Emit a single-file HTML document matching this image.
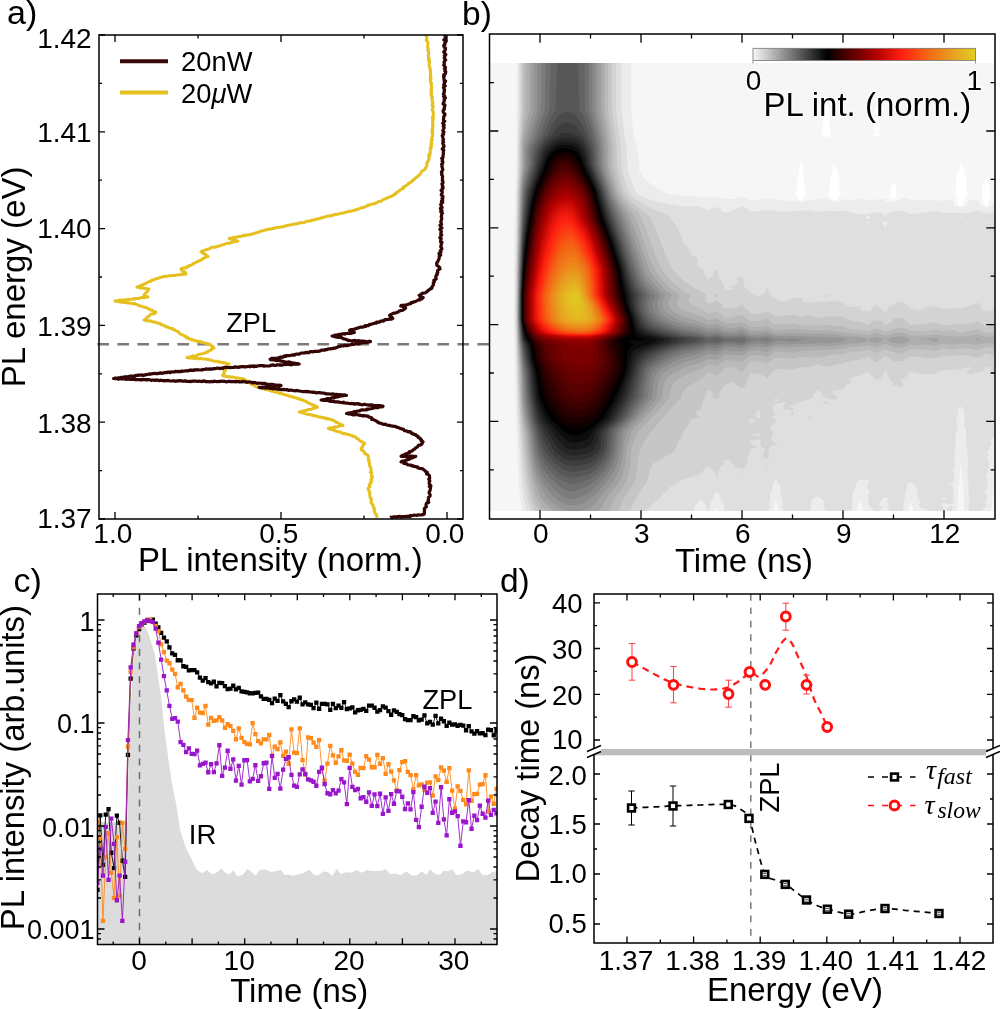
<!DOCTYPE html><html><head><meta charset="utf-8"><style>html,body{margin:0;padding:0;background:#fff;overflow:hidden;}svg{display:block;will-change:transform;}</style></head><body>
<svg width="1000" height="1009" viewBox="0 0 1000 1009">
<rect width="1000" height="1009" fill="#fff"/>
<line x1="97.4" y1="344.2" x2="511" y2="344.2" stroke="#7a7a7a" stroke-width="2.6" stroke-dasharray="11.6 8.4"/>
<polyline points="426.6,35 426.3,36.2 426.6,37.5 427.1,38.4 426.2,40.1 426.7,40.9 428,42.2 427.9,43.5 427.7,44.5 427.8,46.1 427.7,47.3 428,48 428.3,49.6 427.7,50.4 428.7,51.9 428.5,53.4 428.6,54.6 428.2,55.8 428.5,56.8 428.5,58.3 429.3,59 428.3,60.3 429.7,61.6 429.3,62.7 429.2,64 429.1,65.3 429.6,66.8 429.9,68 430.3,69.2 430.1,69.9 430.5,71.7 430.7,72.6 430.5,73.6 430.3,75 430.9,76.3 430.1,77.1 431.1,79 430,80 430.6,80.8 430.5,82.5 431.5,83.2 431.2,84.4 431.4,85.8 431.8,87.5 431.3,88.7 431,89.3 431.6,90.5 431,91.9 431.8,93 430.9,94.7 431.5,95.9 432.5,96.8 431.9,98.1 432.2,99.3 432.1,100.5 432.3,101.8 433,102.9 432.3,104.3 432,105.2 433.3,106.6 432.7,107.4 432.6,109 432.1,110.2 433.1,111.1 433.2,112.6 433.4,113.7 433.2,115 433.5,116.4 432.3,117.2 433.3,119 432.6,119.9 433,121 432.6,122.2 432.6,123.6 432.4,124.7 433.1,125.7 432.7,127.4 432.2,128.3 433,129.5 431.9,130.8 432.7,131.9 432,133.2 432.8,134.5 432.7,135.6 432.1,137 431.7,138.3 432.4,139.4 431.2,140.4 431.5,141.6 431.8,143.3 430.7,144.1 431.5,145.5 431.4,146.6 430.2,147.7 431.1,148.9 430.2,150.2 430.3,151.5 429.9,152.7 430.4,153.7 428.6,155.4 429.7,156.6 428.7,157.8 429.1,158.6 428.5,160.2 428.1,161.2 427.2,162.3 426.8,163.3 427.1,164.7 426.6,166 426.3,166.7 425.6,168.1 424.8,169.3 424,170 421.8,171.2 421.2,171.9 421.2,173 420,174.3 419.3,175 418.5,175.7 416.9,176.9 416.3,177.6 415.1,178.1 414.4,179.3 412.8,180.1 413,180.9 411.9,181.2 410.6,182.6 408.7,183 408.4,184 407.1,184.8 406.3,185.4 405.9,185.9 403.8,186.7 403,187.4 403.4,188.6 401,189.1 400.4,189.7 399.5,190.7 398.9,191.2 397.3,192 396.2,192.8 396.2,193.5 394.2,194.1 393.9,195 392.6,195.6 392.1,195.9 391,196.6 389.2,196.9 388.2,197.6 386.9,198.1 385.9,198.3 384.9,199.1 383,199.5 382.4,200.2 382.1,200.4 380.9,201.2 378.7,201.5 377.4,202.2 377.1,202.7 375.7,203 375,203.5 373.8,203.8 371.6,204.2 370.3,204.4 370.4,204.7 368.1,205.1 368.2,205.6 365.7,206.4 364.7,206.8 364.5,207.2 363.7,207.4 362.3,207.4 361.1,208.1 359.9,208.3 358.8,209.2 356.6,209.2 356.2,209.9 354.5,209.9 353.8,210.5 352.2,210.8 351.8,211 350,211.2 348.7,211.5 347.1,211.9 347.3,212.1 345.7,212.2 344.4,212.8 343.2,212.9 341.6,213.3 341.1,213.3 338.6,213.9 338.7,214 336.7,214.4 335.1,214.4 333.9,214.9 332.9,214.9 332.3,215.7 330.4,215.8 329.4,216.1 328.5,216 326.7,216.2 325.9,216.7 324.7,217 322.9,217.2 322,217.8 320.4,218.3 319.7,218.3 318.5,218.8 317.8,218.9 316.1,219.3 315.4,219.4 314,220.1 312.3,220 310.7,220.6 310.2,221 309.3,220.9 307,221.2 305.7,221.8 305,222 304.3,222.5 302.1,222.7 301,222.7 300.4,222.7 298.1,223.5 297.2,223.4 296.4,223.9 294.2,223.9 293.6,224.2 292,224.6 292,224.7 290.1,224.8 288.4,225.4 286.9,225.7 286.9,225.5 285,226 284.5,226.2 282.9,226.7 280.9,226.9 280.2,227.2 278.4,227.4 278.2,227.6 276.3,227.5 275,227.9 274.1,228.4 272.6,228.3 271.5,228.8 269.5,229.2 269,229 268.2,229.3 266,229.9 265,230 264,230.4 262.8,230.8 261.1,231 259.5,231.7 259.4,232 258.2,232.3 256.2,232.7 256,232.9 254.2,233.4 253,234 252.2,234.1 250.3,234.4 249.4,234.9 247.8,235.1 246.2,235 245,235.1 244.8,235.8 242.6,235.6 241.8,236.2 241.2,236.5 239.6,236.3 238.1,236.6 237,237 235.7,237.3 233.9,237.3 233.5,237.4 232.2,238.2 231.1,238.1 229,238.4 230.4,238.8 231.8,239.4 233.2,239.4 234.7,239.9 235.6,240.4 235.9,240.8 238,241 237.1,241.3 235.7,241.5 234,241.8 232.5,242.1 232.3,242.3 231,242.9 230.4,242.7 229,243.3 226.6,243.4 225.8,243.5 225,244 223.9,244.6 222.4,244.9 221.8,244.8 220.9,245.5 219.8,245.9 218.3,246 217.3,246.7 216.2,246.8 214.8,247.2 212.6,247.2 211.4,247.7 210.3,248.2 210,248.6 208.4,249 207,249.3 206.6,249.6 205,250 203.2,250.8 202.7,251 201,251.6 201.8,252.3 203.2,252.9 203.2,253.6 205.5,254.2 205.9,255 206.5,255.7 208,256.6 206.7,256.9 205,257.5 204.1,258.2 202.8,258.5 202.3,259.3 201.6,259.6 200,260.4 199,261 197.2,261.8 196.4,261.8 195.7,262.4 194.9,263.1 193,263.4 192.9,264.1 191.9,264.7 191.1,265.2 188.9,265.7 188.7,266.5 186.9,266.7 186.4,267.8 185,268 183.8,268 181.6,268.4 181,269 181.5,269.7 182.3,271.1 184.6,271.8 185.8,273 186,274 185.3,274.4 184.2,274 182,274.5 181.8,274.3 179.5,274.9 178,274.8 177.1,275.1 176.8,274.9 175.3,275.4 174.2,275.4 173.1,275.5 171,275.5 170.4,275.8 168.3,275.8 167.8,276.2 166.6,276.2 165,276.4 163.7,276.5 162.8,276.7 161.2,277.5 160.3,277.4 158.3,278.2 157.7,278.6 156.8,278.6 155,279 154.5,279.7 152.5,280 151,280.6 151.3,281 149.6,281.5 147.7,282.4 146.8,282.6 145.6,283.5 145,284 144,284.1 142.3,285.2 141.1,285.3 140.3,285.9 139.5,286.3 138.2,286.4 137,287 137.7,286.9 139.9,287.2 139.8,287.9 141.3,288.1 142.3,288 143.8,288.4 145.6,288.5 147,288.8 147.6,288.9 149,289 148.1,289.8 147.9,291.1 147,291.8 145.7,293 145.2,293.7 144,295 145.1,295.7 146,296.4 148,297 147.2,297.1 145.8,297.4 143.9,297.3 143.9,297.5 141.8,297.5 140.2,297.7 140.1,298.2 138.8,298.5 137.2,298.6 135.8,298.4 135.3,298.9 134.1,298.8 132.5,298.9 131.7,299.3 129.3,299.5 127.9,299.1 127.6,299.4 126,299.8 124,300 123.2,299.9 122.1,300.3 121.5,300.1 119.3,300.3 118.5,300.3 116.9,300.9 116.5,301.2 115,301 117,301.4 117.3,301.2 118.4,301.5 120,301.8 121,302.2 122.2,302.1 124.4,302.5 124.7,302.3 126.7,302.4 126.9,302.9 128.8,302.8 129.3,303.1 131.7,303.4 133.3,303.8 134.5,303.5 135,304 135.7,304.1 137.3,304.7 137.9,305.2 139.2,305.5 140.6,306.2 142.1,306.2 142.7,306.8 144.8,307.3 146.5,307.8 147,308 147.7,308.3 149.7,309.3 150.4,309.9 151.6,310.1 152.1,310.4 154,311.6 155.5,311.8 156,312.4 155.1,313.2 154.1,313.5 152.3,314 150.7,314.3 150,315 149.3,316.1 148.1,316.6 146.8,317.5 146.5,318.3 145.7,318.9 144,320 144.9,320.2 146.3,320.7 148.2,320.9 149.1,320.6 150.2,321.1 151.3,321.2 152.9,321.8 153.1,321.9 155,322 156,322.5 158,323.2 158.8,323.2 160.4,323.7 160.7,324.6 161.8,324.7 164,325.6 164.1,325.7 165.2,326 166.4,327 167.3,327 168.6,327.4 170.3,328.3 172,328.7 173.2,328.7 173.5,329.8 175,330 175.5,330.6 177.3,331.3 178.5,331.9 179.1,333.1 180.1,333.8 181.3,334.6 183,335 184.3,335.8 184.4,336 186.4,336.8 186.5,337.9 188.6,338 189,339 190.9,339.3 191.2,339.3 192.4,340.2 193.4,339.9 194.3,340.2 195.8,341 196.6,340.9 199.1,341.7 200.4,341.5 200.5,342.2 201.9,342.4 202.8,342.2 204,343 205.9,343.2 206.6,343.4 207.7,343.7 209,344 210.5,344.6 211.2,345.9 212.6,346.2 213.7,347.4 214,348 212.3,348.5 211.3,349 211.4,349.8 210.1,350.3 207.6,351.4 207.7,352.1 206.4,352.4 205,353 204.2,353 202.7,353.6 200.8,354 199.9,354.2 198.8,354.4 197.6,354.9 197.4,355.4 196,355.7 193.9,356.1 192.6,355.8 191.8,356.5 190.3,356.8 189.1,357.3 188.1,357.3 187,357.6 188.3,357.9 190.2,357.8 190.5,358 191.1,357.9 193.6,358.2 193.5,358.4 195.2,358.6 196.4,358.2 197.9,358.7 198.9,358.8 200.5,358.5 201.1,358.7 202.4,358.7 204,359.1 205,359 206.3,359 207,359.4 208.8,359.5 209.1,359.9 210.7,359.9 212.3,360.8 213.5,360.9 215.1,361.2 216.5,361.2 217.3,361.3 218.8,361.7 219.4,362.2 220.3,362.1 222.3,362.6 222.3,362.4 224,362.7 225.9,363 226.2,363.4 227.8,363.7 229,364 228.3,364.9 227.2,365.4 226.4,366.5 226.7,367.8 224.8,368.7 225.5,370.2 223.9,370.7 224.1,372.1 224.3,373.5 223,374.4 222.8,375.6 224.1,376 224.7,375.9 225.8,376.3 226.9,376.7 228.9,376.6 229.4,376.6 231.2,377.2 232.6,377.1 234.5,377.5 235,377.4 235.8,378.1 236.7,378 238.7,378.1 240.2,378.7 241.5,378.8 241.7,378.5 243.3,378.9 244.6,379.2 245.2,380.2 246.3,380.9 248.6,381.1 249.6,382.1 249.6,382.6 250.4,383.6 252,384.5 253.9,384.8 254.3,385.7 255.5,386.5 256.2,386.7 257.5,387.3 258.7,387.2 259.7,387.8 261.4,388 262.8,388.3 263.9,388.8 264.3,389.3 265.8,389.4 267.3,389.8 268.3,389.8 270,390.6 270.7,390.8 271.5,391.3 273.3,391.2 274.7,392 275.1,392.3 276.5,392.1 278,392.6 279.2,393 279.4,393.3 281.8,393.6 282.4,394.2 283.4,394.3 284.7,394.6 286,395.2 286.7,395.1 288.8,395.7 289.2,396.3 291.4,396.4 292.8,397 293.6,397 293.6,397.6 296,397.7 296.8,398.2 297.6,398.7 299.4,398.8 299.8,399.3 301.4,399.8 302.9,400 303.5,400.5 304.6,401.1 306.4,401.4 306.6,402.2 308,402.8 309.1,403.1 310.8,404.2 312.4,404.5 312.8,404.8 313.7,405.5 315.9,405.9 317,406.7 317.4,407.3 316.1,407.5 315.7,407.7 313.9,408.2 312.1,408.4 312.1,409.1 310.5,409.4 308.3,409.6 308.1,409.6 306.4,410.4 305,410.6 303.5,410.9 302.5,411.1 301.4,411.6 300.8,411.7 299.2,412 300.7,412.2 302,412.4 302.8,412.9 303.7,412.9 304.5,413.5 305.8,413.9 307.4,414.3 309.1,414.4 309.5,414.3 311,415 312.8,415 312.7,415.7 314.8,415.7 316,415.8 316.8,416.4 318.1,416.4 318.5,416.9 320.9,416.9 320.7,417.2 323.1,417.6 323.7,418.3 325.1,418.1 326.5,418.3 327,419 328,418.8 329.7,419.3 331.6,419.5 332,420 333.6,420.5 334.7,421.1 335.5,421.5 335.9,422.2 337.9,422.7 338.1,423.2 339,423.7 340.8,424.4 342,424.8 342.9,425.5 340.9,425.4 340.2,425.8 339.4,426.1 338.5,426.5 337.1,426.9 335.6,426.9 334.1,426.9 333.6,427.4 331.3,427.9 330.9,428 329.4,427.9 328.3,428.4 330.3,428.6 330.4,429.4 331.2,429.5 332.9,429.7 334.8,430.2 334.5,430.6 335.6,431.1 338.2,431.6 338,431.8 339.6,432 340.7,432.3 341.6,432.8 342.7,433.4 343.8,433.8 345.2,433.6 347.2,434.2 348.4,434.6 349.4,434.7 350.6,435.3 352.2,435.4 352,436.1 353.8,436.4 355.6,437.1 356.3,437.9 356.9,438.6 358.3,439 358.9,440.2 360,440.8 361,441.4 362.8,442.4 364.3,443 364.7,443.7 363.5,444.7 362.6,445.7 362.7,447.1 361.4,447.9 361.1,449.2 361.4,449.9 362.9,450.8 364.5,451.9 364.5,452.8 364.9,453.8 367,454.5 367.8,455.4 368.4,456.4 368.2,457.4 368.3,458.9 369.2,460.2 368.6,461.5 369.4,462.4 369.6,463.7 369.3,464.9 370.2,466.3 370.2,467.4 371.1,468.4 371.2,470 371.1,471.3 370.4,472.4 371.8,473.2 371.6,475 371.3,476.1 372.5,477 372,478.3 371,479.3 371.7,480.7 370.5,481.9 371.1,483 369.2,484.6 369.3,485.5 370,486.6 368.1,488.2 368.4,489.2 368.3,490.2 369.7,491.5 369.9,492.7 369.3,493.9 370,495.3 370,496.5 370.2,497.9 371.5,499.1 371.6,499.9 371,501.2 371.1,502.9 372,503.8 373.1,505.2 373,505.9 373.3,507 374.5,508.2 374,509.8 374.3,511 374.9,512 375,513.3 376,514.1 376.8,515.4 376.6,516.2 377.5,517.6" fill="none" stroke="#e5c01e" stroke-width="3.0" stroke-linejoin="round"/>
<polyline points="444.8,35 445.1,36.4 445.4,37.8 445.3,39 443.8,39.8 445.8,41.1 445.7,41.9 444.7,43.2 444.9,44.7 443.7,45.6 444.3,47.4 445.4,47.9 445.5,49.1 445.1,50.3 443.7,52.1 444.2,52.7 445.9,54.5 444.3,55.8 444.9,56.8 444.2,58.2 445.2,59.4 445.7,60 444.5,61.1 444,62.2 444.4,63.9 443.7,65.2 444.4,66 445.5,67.4 444.4,68.6 445.3,69.4 444.8,71 445.8,71.8 445.3,73.8 443.7,74.9 444.4,76 443.6,76.7 444,78.8 444,79.8 445.6,81.2 444.2,81.9 444.6,83.5 443.7,84.7 445.2,86 443.5,87.3 443.6,88 444.7,89.8 444.1,91 444.5,91.7 444,92.8 443.4,94 444.7,96 443.6,96.4 445.4,98 444.1,99 444.4,100.7 444.1,101.6 443.2,103.3 443.1,104.1 444.9,105 444.6,107 444.1,107.8 444.4,109.3 443.2,110.2 443.2,111.7 443.5,112.6 445,114.1 444.9,115 443.8,116.4 443.8,117.3 443.6,118.3 443.5,120.3 444.7,121.2 443.7,122.1 442.7,123.3 444.2,125 443.2,126.2 444.1,127.3 443.8,128.5 443.1,129.7 442.9,130.7 444,132.1 442.9,133.5 443.6,134.4 442.2,135.6 442.7,136.9 443.1,138.2 443.5,139.4 442.8,140.5 443.6,141.9 442.7,143.1 443,144 443.8,145.4 444,146.8 443,147.7 442.2,149.2 443.8,150.1 443.3,151.5 443.3,152.3 443.4,153.8 443.2,154.9 443,156.4 443,157.6 441.7,158.3 442.6,160 442.1,161.2 442.9,161.9 442.6,163.3 441.6,164.4 442.2,165.7 441.9,166.8 442.5,168.3 442.8,169.7 441.9,171.2 441.4,172 442,173.2 441.6,174.8 442.1,175.3 442.6,176.6 442.4,178 442.5,179.8 442.3,180.6 443,181.7 442.9,183.2 441.9,183.9 442.4,185.5 443.1,187.1 442.3,187.7 442.9,188.7 441.1,190.4 442.2,191.2 442.2,193.1 441.6,193.9 441.3,195 442.9,196.3 442.8,198 442,198.6 442.8,200 441.5,201.1 442.7,202.4 441.1,203.6 440.7,205 441.4,205.9 442.1,207.6 440.4,208.5 440.9,210.1 442,210.7 440.8,211.8 442.4,213.2 441.5,214.6 441.6,215.9 441.2,217 441.7,217.9 441.7,219.2 441.2,220.5 440.7,221.9 441,222.9 441.6,224.3 440,225.3 440.9,227.1 441.9,227.9 439.9,229.4 440.8,230.4 441.4,231.6 440.9,233.1 440.7,233.9 441.7,234.9 440.4,236.7 439.9,237.9 441.2,238.7 440.8,240 440.5,241.6 442,242.4 441.2,244 441.3,245.2 440.7,246.7 441.6,248 441.9,249 440.2,250.9 441,252.1 439,253.5 440.7,255.1 439.2,256 439.2,256.9 439.2,258.4 438.3,260.4 438.1,261 436.7,263 436.8,264 436.8,265.3 438.2,266.1 439.5,267.2 440,268.8 438.3,269.9 437.5,270.8 437.8,272.6 436.8,273.6 437.2,274.6 435.8,276.1 435.8,277.6 436.2,278.8 433.8,280.4 434.4,281.6 433.2,283 433.5,284.5 433.1,285.5 432,286.8 432,288 430.3,289 429.8,289.3 428.1,290.3 428,290.9 426.4,292 425.7,292.7 423.1,293.2 421.9,293.3 421.8,293.9 421.2,294.6 419.2,295.2 420.1,296.3 420.8,297 423.2,297.6 421.1,297.9 421.9,298.9 419.2,299 419.7,300 418.2,300.1 416.6,300.9 415.2,301.6 413.3,301.9 412.9,302.4 411.1,302.7 410.8,303.7 408.8,304 408.1,304.3 406.9,304.7 405,305.1 404,305.2 401.2,305.3 400.8,306 401.3,306.1 404.1,307 405,307.1 405.6,308 404.5,309.1 403.7,309.5 402.4,310.4 401,310.5 399.1,311.1 398.3,311.7 398.1,312 396,312.8 394.2,313.1 392.7,313.6 391.6,314.2 389.9,315.1 389.6,315.2 390.4,316.7 392.1,317.5 392.8,318.4 391.5,319.1 389.4,319.2 388.5,319.5 388.2,319.4 385.7,319.6 384.5,319.9 383.6,321.1 382.3,320.8 381.2,321.1 380,321.6 379.2,322.2 376.6,322.2 376.4,323.2 375,323.1 374.4,323.2 372,324 369.8,324.6 369.4,324.4 368.5,325.6 367.2,325.5 365.1,325.6 365.7,326.4 364.6,326.4 362.4,327.2 360.6,327.1 359.6,327.5 358,328.1 356.9,328.1 355,329.2 354,329.1 353.2,329.5 351.2,329.6 350,330.1 349.6,330.4 351.7,331 352.8,331.2 352.1,332 354.4,332.5 353.1,332.8 351.6,333 351.2,333.4 349,333.2 348.9,333.2 346.1,333.5 344.8,334.1 345.1,333.9 342.4,333.9 341.4,334.1 340.6,334.7 338.9,334.4 338.7,334.6 336.3,335 335.5,335.1 334.3,335.4 333.8,335.9 332,336 334.1,336.3 335,336.5 335.5,336.9 337.1,337.2 338.5,337.2 338.7,337.5 340.1,337.1 341.6,337.6 341.9,337.9 343.6,338.9 345,339 347.3,340 348,340.5 348.2,340.2 349.7,340.5 352.5,341.1 353.2,340.5 354.1,340.7 355.1,340.4 356.9,341.2 358.5,340.6 359.3,340.8 360.9,341.1 362.7,341.4 362.1,341.1 365.1,341.3 365.3,341.3 367.3,341.8 368,341.9 369.4,341.2 370.4,341.6 369.9,341.7 367,342.4 365.8,342.3 365.6,342.7 364.2,342.3 362.7,342.5 362.1,342.9 361.4,343 359.3,343.2 359.5,343.9 358,343.9 356,344 354.6,343.9 354.3,344.4 351.3,344.3 350.2,344.9 350.7,344.7 349.3,345 347.8,345.6 346.4,345.7 344.7,345.2 343.7,345.9 341.8,345.9 340.8,345.8 340,346.4 338.3,346.6 337.4,347.2 335.9,347.8 335.6,348.1 334,348.1 332.4,348.6 330.7,348.7 330.2,349 328,348.9 327.2,349.6 325.1,349.7 324.9,350.2 324,350 323.2,350.1 321.5,350.1 320.3,350.8 319.6,351.2 317.7,351.4 316.6,351.3 314.2,351.4 314.5,351.4 313.4,351.8 310.9,351.5 309.6,351.9 309,352.7 308.3,352.6 305.9,352.3 305.4,352.9 304.2,352.9 303.3,353 300.8,353.2 300,353.6 299.1,354.2 296.9,354.2 297,354 294.3,354.6 294.7,355.1 293.3,354.9 291.5,355.2 291.3,355.2 288.8,355.7 289.1,355.6 285.8,355.7 285.8,356.4 283.8,356.2 283.5,356.9 282.5,357.2 279.9,357.2 280.4,357.8 278.1,357.9 277.6,358.2 275.5,358.3 275.6,358.3 272.8,358.3 271.7,358.4 270.5,359.1 270.1,359.2 270.4,359.6 273,359.9 274.4,360 275.9,360.4 276.4,360.6 276.5,360.1 277.6,360.3 279.5,360.8 281.4,361.2 281.3,361.1 283.5,361.3 283.8,361.7 285.6,362 287.1,362.4 289.3,361.8 290.1,362.6 290.3,362.3 291.9,362.7 293.7,363.4 294.1,363 295.6,363.6 297.4,363.7 297.5,363.7 299.2,364 298.8,364.1 295.8,364.1 295,364.3 293.4,364 292.2,364.3 293,364.4 290.5,364.8 288.6,364.4 289,364.1 287.7,364.5 284.8,364.4 284.5,364.6 283.5,364.4 281.6,365.3 280.9,364.9 278.9,364.8 279.6,365.2 277.4,364.7 275.9,365.4 274.8,365.3 274.6,365.4 272.8,364.9 270.2,365.6 269.9,365.8 269.6,365.9 267.4,366 267,366 264.5,365.9 263.8,366.2 263.9,365.6 261.4,365.7 260.3,365.7 259.5,365.6 257.2,366 255.8,366 256.4,366.5 253.6,365.8 253.8,366.7 252.1,366 250.1,366.8 250.4,366 247.5,366.5 246.5,366.8 245.5,366.9 243.8,366.7 244.4,366.9 241.3,366.5 241.3,366.8 239.5,366.9 238.7,367.4 236.8,367.1 235.6,367.2 235.4,366.9 233.6,367.4 231.4,367.5 231.1,367.4 230.3,367.7 227.8,367.5 226.6,367.4 226.4,367.6 224.8,367.3 223.5,367.8 223.1,368.3 221.3,368 220.8,368.5 220.1,368.6 217.5,368 217.6,368 215.4,368.7 214.3,368.5 214,368.5 212,369.1 209.8,368.8 209.4,369.1 207.6,369.1 206,368.9 205.4,369 205.6,369.2 202.9,369.8 202.7,369.4 201.6,369.8 199.5,370 197.9,369.7 198.1,370 196.9,369.9 194.1,369.8 194.2,370.4 191.3,370 191.9,370.5 190.8,370.2 189,370.4 188.1,371 186.6,370.7 186.1,370.7 183,371.3 181.8,370.9 181.4,371.5 181.2,371.7 178.1,371.7 178.6,371.3 177.2,371.6 175,371.4 174.8,372 173.9,372 171,371.9 170.1,372.7 168.7,372 167.8,372.1 166.8,372.7 166.1,372.4 163.7,372.8 163.7,372.8 162.3,373.4 160.1,372.9 159.7,373.2 159.3,373.3 157.6,373.3 156.7,373.8 154.4,373.3 153.6,373.7 151.9,373.7 152,373.8 150.2,374.3 149.8,373.9 148.1,374.3 145.5,374.7 145.9,374.8 142.9,375.3 142.4,375.1 142,374.9 140.1,375.1 138.2,375.1 138.3,375.5 137.4,375.4 135,375.6 135.2,376.3 133.9,376.2 130.9,376.2 130,376 129.5,376.4 127.3,376.8 127.9,377.3 125.6,376.7 125.1,376.9 123.4,377 123.2,377.5 120.7,377.4 119.8,378.2 118.3,377.7 117.3,378.4 115.8,378.3 115.7,378.2 113.6,378.5 115.5,378.6 115.2,378.2 118.2,378.6 118.3,379.1 119.8,378.8 120.4,379 121.6,378.8 123.9,379 123.7,378.7 126.2,379.2 126.1,379.5 127.3,378.8 128.5,379.1 130.8,379.5 131,379.5 132.1,379.4 133.7,379.3 134.4,379.6 135.8,379.7 137.5,379.6 139.4,379.6 141.1,380 141,379.6 143.5,379.4 143.7,379.7 146.2,379.5 146.7,380.1 148.1,379.5 149.7,379.8 150.8,380.2 151,380.4 152.8,380 154.1,380.2 155.3,380.4 156.7,380 157.2,379.9 159.1,380.7 160.4,380.1 161,380.5 161.3,380.3 164.4,380.9 163.9,381 166.1,380.6 167.3,380.6 167.7,380.4 169.7,381 171.1,381 171.8,381 172.9,380.8 174.7,380.9 175.7,381.3 176.5,381.2 176.9,380.9 179.8,380.8 179.3,380.7 182.1,380.8 182.6,381.1 184.6,381.1 185.2,380.7 187,381.4 187.8,381.5 189,381.4 190.8,381.3 190.2,381.6 193.5,381 192.7,381.1 194,381.1 195.2,381 196.2,381.2 198.1,381.5 199.5,381 201.9,381.7 202.5,381.1 203.1,381.3 204.4,380.9 205.7,381.6 207.4,381.7 208.6,381.6 210.2,381.8 211.3,381.4 212.2,381.6 213.9,381.6 214.1,381.2 215.1,381.3 217.1,381.7 217.2,381.5 219.9,381.4 219.4,381.6 221.2,381.2 222.3,381.1 223.2,381.5 224.3,381.2 226.5,382 228.3,381.5 229.8,381.3 229.3,381.2 230.3,381.7 233,381.6 234.3,381.6 235.8,381.8 236.2,381.4 237.2,381.7 239.2,381.5 239.3,382 240,381.8 241.6,381.9 243.6,381.4 244.6,381.8 246.3,381.8 246.6,382.4 248.9,382 249.8,382 250.7,382 252.2,382.9 253.4,382.3 254.3,382.8 255.4,382.6 256.2,383 257,383.3 258.6,383.1 259.5,383.2 262.5,383.3 261.9,383.5 265,383.4 264.9,383.6 266.8,384 266.8,384.5 268.5,384.4 270,384.7 270.3,384.3 272,384.4 274.4,384.8 274.6,384.9 276.9,385.1 277.3,385.3 278.8,385.2 279.6,385.1 281,385.5 279.7,385.9 278.2,385.6 277.6,385.9 275.4,385.9 275.5,385.6 272.9,386.3 273.4,385.8 270.4,386.4 269.6,386.5 267.9,386.5 266.9,386.5 266.9,386.7 266,387.1 264.3,387.2 262.1,387 261.2,387.2 259.6,387.5 259.2,387.3 260.1,387.7 262.6,387.9 262.6,388 265.1,387.4 265.8,388.1 266.4,387.8 267,388 269.9,388.1 269.6,388.4 271.2,388.5 272.4,388.3 272.7,388.9 275.3,388.5 276.2,388.9 277.4,389.3 279.2,388.9 279.5,389.3 280.3,389.7 281.2,389.4 283,389.6 283.7,389.4 287,390 286.5,389.8 287.3,389.7 288.8,390.5 290.3,390 291,390 294.2,390.7 295.3,390.9 296.2,390.5 296.1,390.6 297,390.6 299.7,391 299.3,391 302.4,391.5 303.4,391.6 305,391.5 305,391.6 306,391.3 307.2,391.8 308.1,391.5 309.6,391.9 312.3,392.1 313.3,392.5 314,392.2 314.7,392.3 316.5,392.9 317.4,392.7 319.3,392.6 319.1,392.5 321.2,392.8 321.2,393 322.9,393 325,393.4 325.4,393.7 326.5,393.9 327.5,393.8 330,394 330.7,394.2 332.2,394.2 332.2,393.8 334.3,394.3 334.7,394.5 336.5,394.4 338.1,394.8 338.8,394.7 340.7,394.9 341.2,394.7 342.8,395.1 344.4,394.8 345.2,395.2 346.5,395.3 344.6,395.2 345,395.3 342.9,395.8 340.6,396 339.7,396.3 340.1,396.3 337.7,397 337.1,396.7 335,397.1 335.2,397.5 332.6,397.7 331.9,397.7 331.1,398.4 329.4,398.5 328.9,399.1 327.3,398.5 325.9,399.2 324.3,399.5 323.1,399.7 322.5,399.9 321,400 323.2,400.3 323.9,400.5 324.1,400.5 326.1,400.2 327.6,400.4 328.3,400.8 330,401.2 330.6,401.5 331.8,401.3 334.2,401.2 334.8,401.9 334.7,401.9 337.1,401.8 338.6,402.2 338.4,402 340.7,402.4 342.7,402.6 343.6,402.1 343.9,403 346.3,403 346.1,403.1 347.8,403.2 349.2,403.5 350.6,403.7 351.4,403.4 352.9,403.6 353.8,403.7 354,404.2 355.8,403.9 356.4,403.7 359.6,403.9 359.4,404.5 360.5,404.5 362.5,404.8 363.5,404.4 364.2,404.5 364.9,404.4 366.4,404.7 369,405.3 369.3,404.8 370.4,405.3 372,404.9 373.3,405.2 373.7,405.7 374.8,405.5 377.5,405.7 379,405.6 380.3,405.5 381.4,405.9 380.7,405.9 383,406.2 382.9,406.6 381.2,406.9 378.4,406.7 378.2,407.5 378,407.1 377,407.7 374.3,407.5 373.4,408.1 372.3,408.2 372.2,408.5 369.6,409 368.3,409 366.8,409 367.6,409.6 365.4,409.9 364.5,410 362.7,409.9 360.8,410.1 360.4,410.2 359.8,410.8 357.7,411 357.1,411.1 356.7,411.6 353.8,411.5 354.4,412.2 351.9,412.5 350.2,412.9 351,412.9 347.9,413 348.4,413.3 346.5,413.5 347.1,413.4 348,413.8 349.4,413.9 352.2,414.5 352.6,414.6 353,414.9 355.8,414.6 357.1,414.6 358.5,414.8 359.6,415.4 360.8,415.5 360.2,415.2 362.7,416 363.9,415.3 364.4,415.8 365.2,415.8 367.2,416.1 368.4,416.4 369,417 371.6,417.8 372.2,418.8 371.7,419.4 373,419.4 375.5,420.6 376.3,421 377.6,421.6 377.5,422.1 379.3,423 379.7,422.9 382.7,424 382.6,423.8 383.7,424.4 385.3,424.1 387.4,425.1 386.8,425 388.4,425.4 389.9,425.4 391,426 392.7,426.1 394.3,426.4 396.1,426.7 396.9,427.4 397.5,427.3 398.9,427.8 400.4,428.4 400.2,428.6 401.3,428.7 403.6,429.4 403.8,429.6 404.4,430.6 406.3,430.9 408.1,431.8 409.3,431.6 411.1,432 411.3,432.9 411.8,433.6 413.7,433.9 413.8,434.4 415.7,434.6 416.1,435.6 418,436.3 417.9,437.2 420.4,438.4 420.2,439.2 421.5,439.9 421.2,440.6 423,441.9 422.2,442.8 422.1,443.7 420.8,444.8 419,445.1 417.9,445.9 417.6,446.9 415.2,448.1 415.1,448.7 414.1,449.4 413.2,449.8 412,451 410.1,451.7 409.5,451.7 409.4,452.8 408.2,453 405.7,453.9 404.8,454.3 404.8,454.5 402.2,455.3 402.8,455.8 401.1,456.3 403.4,456.1 404,456.3 404.9,456.2 405.4,456.4 407.4,456.7 408.6,456.3 409.9,456.5 410.6,456.2 412.5,456.3 412.2,456.1 414.2,456.6 415.7,456.4 414.9,456.8 414.1,457.1 412,457.9 411.6,458.1 410.9,458.1 409,459.3 408.7,459.1 407.4,459.9 406.5,460.1 404.8,460.8 404.4,461 402,461.2 401.1,462 402.7,462 404.2,462.4 403.9,463.5 405.7,463.7 406.5,463.7 407.7,464.7 408.5,465 411.2,465.2 411,465.6 413.5,465.9 413.2,466.3 415.9,466.6 415.3,466.7 417.5,466.9 417.3,467.6 419,468.1 419.8,468.5 422.2,468.7 423,469.2 424.1,470.1 425.4,471.1 426,472 427.3,472.4 426.7,474 428.4,474.6 429.3,475.4 429.6,477.1 429.7,478.4 428.8,479.1 429.8,480.9 429.3,481.7 429.2,483.5 429.6,484.1 430.9,486 429.3,486.5 430.6,487.9 430.3,489.2 430,490.6 429.4,491.7 429,492.6 429.6,493.9 430.2,494.9 430,496.2 428.6,497.3 428.3,499.2 428.5,500 427.8,501.4 428.7,502.4 426.5,503.3 426.1,504.3 426,505.4 426.4,506.8 425.1,507.7 424.3,508.7 424.6,509.8 424.3,511.1 424.4,512.2 424.2,514 423,514.7 422.7,514.6 421.5,514.9 420.2,515 418.2,514.9 417.5,515.1 416.6,515.5 414.3,515 412.8,515.5 411.8,515.7 409.8,515.7 410.5,516.3 408.8,516.2 407.4,516.5 406.6,516.2 404.8,516.7 403.7,516.5 401.9,516.7 401.1,517 401,517.2 399.7,516.4 396.5,516.8 397,517.1 394.5,516.8 393.3,516.9 391.8,517.6 390.7,517.2 390.2,517.6" fill="none" stroke="#330505" stroke-width="3.2" stroke-linejoin="round"/>
<rect x="99" y="35" width="364" height="484" fill="none" stroke="#000" stroke-width="1.5"/>
<path d="M99 35h6M463 35h-6M99 131.8h6M463 131.8h-6M99 228.6h6M463 228.6h-6M99 325.4h6M463 325.4h-6M99 422.2h6M463 422.2h-6M99 519h6M463 519h-6" stroke="#000" stroke-width="1.3" fill="none"/>
<path d="M99 83.4h3M463 83.4h-3M99 180.2h3M463 180.2h-3M99 277h3M463 277h-3M99 373.8h3M463 373.8h-3M99 470.6h3M463 470.6h-3" stroke="#000" stroke-width="1.3" fill="none"/>
<path d="M115 519v-7M115 35v7M281 519v-7M281 35v7M447 519v-7M447 35v7" stroke="#000" stroke-width="1.3" fill="none"/>
<path d="M198 519v-3.5M198 35v3.5M364 519v-3.5M364 35v3.5" stroke="#000" stroke-width="1.3" fill="none"/>
<line x1="120" y1="61.2" x2="168" y2="61.2" stroke="#3a0808" stroke-width="4"/>
<line x1="120" y1="92.5" x2="168" y2="92.5" stroke="#e5c01e" stroke-width="4"/>
<text x="181.1" y="70.9" font-size="27.3" text-anchor="start" fill="#000" font-family='"Liberation Sans", sans-serif'>20nW</text>
<text x="181.1" y="103.2" font-size="27.3" text-anchor="start" fill="#000" font-family='"Liberation Sans", sans-serif'>20<tspan font-style="italic">&#956;</tspan>W</text>
<text x="91.7" y="48" font-size="28" text-anchor="end" fill="#000" font-family='"Liberation Sans", sans-serif'>1.42</text>
<text x="91.7" y="142" font-size="28" text-anchor="end" fill="#000" font-family='"Liberation Sans", sans-serif'>1.41</text>
<text x="91.7" y="238.4" font-size="28" text-anchor="end" fill="#000" font-family='"Liberation Sans", sans-serif'>1.40</text>
<text x="91.7" y="336.2" font-size="28" text-anchor="end" fill="#000" font-family='"Liberation Sans", sans-serif'>1.39</text>
<text x="91.7" y="433.1" font-size="28" text-anchor="end" fill="#000" font-family='"Liberation Sans", sans-serif'>1.38</text>
<text x="91.7" y="527.7" font-size="28" text-anchor="end" fill="#000" font-family='"Liberation Sans", sans-serif'>1.37</text>
<text x="112.8" y="542.8" font-size="28" text-anchor="middle" fill="#000" font-family='"Liberation Sans", sans-serif'>1.0</text>
<text x="278.8" y="542.8" font-size="28" text-anchor="middle" fill="#000" font-family='"Liberation Sans", sans-serif'>0.5</text>
<text x="444.8" y="542.8" font-size="28" text-anchor="middle" fill="#000" font-family='"Liberation Sans", sans-serif'>0.0</text>
<text x="137.9" y="571.3" font-size="33" text-anchor="start" fill="#000" font-family='"Liberation Sans", sans-serif'>PL intensity (norm.)</text>
<text x="25" y="387.3" font-size="33" text-anchor="start" transform="rotate(-90 25 387.3)" fill="#000" font-family='"Liberation Sans", sans-serif'>PL energy (eV)</text>
<text x="226.2" y="331.7" font-size="27.2" text-anchor="start" fill="#000" font-family='"Liberation Sans", sans-serif'>ZPL</text>
<text x="7" y="24.2" font-size="34" text-anchor="start" fill="#000" font-family='"Liberation Sans", sans-serif'>a)</text>
<defs><clipPath id="hc"><rect x="490.2" y="63" width="504.2" height="448"/></clipPath></defs>
<g clip-path="url(#hc)">
<rect x="490.2" y="63" width="504.2" height="448" fill="#ffffff"/>
<path fill="#f6f6f6" fill-rule="evenodd" d="M489.5 519 994.5 519 994.5 57.3 486.1 57.3 486.1 519ZM958.4 205.4 955.2 193.8 955 190.8 956.4 185 955.7 182.1 957 176.3 956.9 173.4 959.3 167.6 960.9 165.1 962.9 167.6 964.2 170.5 964.4 173.4 965.9 176.3 966.2 182.1 965.5 185 966.5 187.9 966.4 190.8 967.6 193.8 965.9 196.7 963.3 205.4 960.9 206.1ZM984.9 205.4 982.7 199.6 981.6 193.8 983.6 182.1 986.1 179.2 990.1 185 989.4 187.9 990.5 193.8 990.3 196.7 987.4 205.4 986.1 205.8ZM798.4 199.6 797.9 196.7 795.5 193.8 797.4 187.9 796.7 182.1 798.4 179.2 797.2 176.3 799.6 173.4 798.3 167.6 800.8 164.7 799.6 161.8 800.9 160.8 802 161.8 801.1 164.7 803.7 167.6 802.1 173.4 805.1 176.3 803.9 179.2 803.5 182.1 805.4 185 804.5 187.9 805.4 193.8 804 196.7 803.3 199.6 800.9 200.2ZM832 199.6 830 196.7 829 193.8 829.2 187.9 830.1 185 830.5 176.3 832.8 170.5 832.5 167.6 834.6 165.3 836.2 167.6 837.2 173.4 838.8 176.3 838.7 179.2 840.1 182.1 838.7 185 840.5 190.8 840.2 193.8 837.6 199.6 834.6 200.4ZM893 199.6 890.4 196.7 890.7 193.8 890.2 190.8 891.5 187.9 891.4 185 893.5 183.8 895.1 185 896.2 187.9 896.5 193.8 896.1 196.7 893.5 199.7ZM892.6 179.2 893.5 178.3 894.3 179.2 893.5 180ZM959.7 161.8 960.9 161.2 961.7 161.8 960.9 163.9ZM821.1 135.7 822.4 129.9 822.1 127 823 124.1 823.4 118.2 822.9 115.3 823.3 112.4 822.4 109.5 824.4 103.7 826.2 101.3 827.6 103.7 829.5 109.5 829.3 121.2 829.9 129.9 831 135.7 826.2 137.3ZM873 135.7 874.6 132.8 873.8 129.9 872.9 121.2 875.4 118.2 876.3 115.3 874.3 112.4 876.7 105.2 877.9 109.5 879.7 112.4 877.2 115.3 879.8 121.2 880.3 124.1 879.8 129.9 878.4 132.8 880.1 135.7 876.7 136.8Z"/>
<path fill="#ececec" fill-rule="evenodd" d="M523.2 519 994.5 519 994.5 517.5 990.6 516.1 990.7 510.3 992.4 504.5 992 501.6 992.7 498.7 992.6 492.9 994.5 480.5 994.5 198.5 992.1 205.4 986.1 207.3 980.3 205.4 977.7 199.7 969.3 199.5 967.1 205.4 960.9 207.3 954.6 205.4 952.5 199 948.9 199.6 944 201.2 935.6 199.7 927.2 200.6 910.4 199.8 902 197.7 900.8 199.6 893.5 202 885.1 202.7 884.1 202.5 885.1 201.3 885.6 199.6 885.1 199.1 868.3 200 859.9 199.1 851.4 200 843 198.9 842.8 199.6 834.6 201.9 827.6 199.6 826.2 197.9 817.8 199.4 809.4 200 800.9 201.9 792.5 200.5 784.1 200.9 780 199.6 767.3 198.4 750.4 200.4 742 197 733.6 199.1 725.2 198.7 716.8 197 708.4 197.9 699.9 196.7 683.1 195.7 667.8 193.8 657.8 188.7 651.1 184.5 644.4 178.2 639 170.5 639.5 164.7 636.9 147.3 633.7 135.7 631.2 109.5 630.9 57.3 517 57.3 516.5 164.7 515.2 190.8 514.4 234.4 513.8 321.5 515.5 397 518.4 478.3 520.1 498.7 522.6 513.2 522.8 519ZM698.1 516.1 699.9 511.1 701.9 516.1 699.9 516.8ZM713.7 516.1 714.1 513.2 716.8 506.8 719.9 516.1 716.8 517.1ZM772.1 516.1 774 507.4 774.2 504.5 775.7 500.6 777.5 504.5 777.6 507.4 779.3 513.2 779.4 516.1 775.7 517.6ZM815.4 516.1 815.7 513.2 817.5 510.3 817.8 508.9 820.3 516.1 817.8 517ZM856 516.1 857.2 510.3 857.3 507.4 859.9 498.7 862.9 507.4 863.8 516.1 859.9 517.5ZM907 516.1 907.7 510.3 910.4 501.4 913.7 510.3 913.9 516.1 910.4 517.4ZM956.3 516.1 957.1 513.2 958.3 492.9 957.9 487.1 958.8 484.2 958.7 481.2 960.3 478.3 959.1 475.4 960.3 469.6 960.2 466.7 960.9 465.1 961.6 466.7 961.4 469.6 962.7 475.4 961.5 478.3 963.3 481.2 962.6 484.2 963.7 487.1 963.3 492.9 964.3 498.7 964 507.4 964.5 513.2 965.3 516.1 960.9 517.7Z"/>
<path fill="#dfdfdf" fill-rule="evenodd" d="M529.9 519 725.6 519 733.6 518.2 736.8 519 747.6 519 749.2 516.1 750.4 515.2 758.9 516 761.7 519 771.3 519 768 516.1 768.8 513.2 768.6 510.3 769.6 507.4 769.4 501.6 770.2 498.7 769.8 495.8 772.1 490 772.9 484.2 774.9 481.2 775.7 477.9 776.3 478.3 776.8 481.2 780.4 487.1 780.3 492.9 781.8 495.8 782.1 501.6 782.9 504.5 782.4 507.4 784.1 512.4 787.1 513.2 784.1 514 783.5 516.1 783.7 519 846.5 519 848.9 516.1 847.7 513.2 851.6 510.3 852.6 504.5 852.3 495.8 852.8 492.9 855.7 487.1 856 484.2 859.9 479.4 868.3 480.6 869.7 481.2 866.8 484.2 868.1 490 870 492.9 868.3 494.5 867.8 495.8 869 498.7 867.9 501.6 868.3 504.5 873.9 510.3 873.3 513.2 870.8 516.1 874.9 519 879.1 519 881.3 516.1 879.5 510.3 882.9 507.4 878.5 504.5 882.8 498.7 885.1 497.4 888.8 498.7 886.8 501.6 888.5 504.5 887.2 507.4 889.8 510.3 890.1 513.2 893.5 516 895.1 516.1 893.5 516.3 892.1 519 902.1 519 902 516.1 903.8 507.4 903.1 504.5 904.9 498.7 905.4 492.9 907.2 487.1 907.2 484.2 910.4 482.5 914.1 484.2 915.1 487.1 918 490 916.6 492.9 918.8 499.6 921.4 501.6 918.8 504 918.8 505.6 921.7 507.4 927.2 509.2 927.9 510.3 935.6 512.5 943.5 510.3 943.6 507.4 941.1 504.5 944 503.2 952.5 504.2 953.3 501.6 953.3 490 952.5 485.2 947.9 484.2 952.5 483.6 953.7 481.2 954 472.5 953.3 469.6 954.8 466.7 954.1 455.1 955 452.2 954.9 446.4 956.1 443.5 955.1 437.7 956 434.8 955.8 431.9 956.9 429 957.3 426.1 956.4 417.4 957.8 414.5 957.7 411.6 958.4 408.6 960.9 406.3 964.4 411.6 963.8 414.5 964.9 420.3 964.1 426.1 965.6 429 966.4 434.8 965.9 440.6 966.5 443.5 965.2 446.4 967.1 449.3 968 452.2 967.2 455.1 968.5 458 967.8 460.9 967.8 469.6 967.4 472.5 968.5 475.4 967.3 478.3 968.7 481.2 968.3 487.1 969 490 968.2 492.9 969.5 498.7 968.7 501.6 969.3 504.5 968.2 507.4 969 510.3 968.7 513.2 969.3 514.8 974.8 516.1 976.3 519 983.8 519 982.5 516.1 981.8 510.3 986.1 506.3 986.5 504.5 985.1 501.6 986.1 500.8 987.1 498.7 986.8 495.8 986.1 494.3 984.2 492.9 985.3 490 986.1 489.7 987.6 487.1 987.6 484.2 986.5 481.2 987.4 478.3 985.4 475.4 988.3 472.5 987.8 469.6 989.2 466.7 988.5 460.9 986.5 458 988.7 455.1 987.3 452.2 989.6 449.3 989.8 446.4 992.6 443.5 990.1 440.6 994.5 436.3 994.5 211.7 986.1 214 977.7 210.2 969.3 213.5 960.9 212.7 944 213.1 935.6 210.9 918.8 213.4 910.4 213.7 902 210.7 893.5 211 886.4 214.1 885.1 217.2 884.3 214.1 876.7 212 859.9 214.9 858.1 214.1 843 210.6 834.6 211.6 826.2 210.7 817.8 212.1 809.4 210.4 792.5 210.7 784.1 212 775.7 210.7 767.3 210.1 758.9 211.2 750.4 211.5 749.2 211.2 746.7 208.3 742 206.8 730.7 211.2 725.2 212.4 722 211.2 720.6 208.3 716.8 207.2 711.9 208.3 708.4 210.3 699.9 206.6 683.1 206.4 657.8 202.1 644.4 197.9 637.6 194 635.1 190.8 627.8 170.5 626.6 147.3 624.2 133.5 621.5 109.5 621.5 57.3 518.7 57.3 518.7 109.5 517.4 147.3 517.7 164.7 515.2 269.3 514.8 318.6 516.4 355.9 517.6 414.5 521.1 475.4 523.7 498.7 527.4 513.2 527.8 519ZM692.4 516.1 694.6 507.4 697.8 501.6 699.9 499.6 702.9 501.6 705.4 504.5 708.3 513.2 708 516.1 699.9 518.9ZM708.6 516.1 708.4 513.2 710.9 501.6 715.5 492.9 716.8 491.6 718.5 492.9 720.2 495.8 720.3 498.7 723.9 504.5 725.1 516.1 716.8 518.7ZM810.5 516.1 809.4 513.2 810.9 507.4 811.4 501.6 812.7 498.7 817.8 496.3 821.2 498.7 824.1 501.6 823.6 504.5 824.2 507.4 825.9 510.3 824.9 513.2 825.6 516.1 817.8 519ZM755.2 504.5 758.9 504.2 759.4 504.5 758.9 504.9ZM922.9 504.5 927.2 504.2 927.9 504.5 927.2 505.2ZM941.1 498.7 944 497.4 946.7 498.7 944 499.7ZM943.7 469.6 944.8 469.6 944 469.7ZM883.9 243.1 885.1 242.6 886.1 243.1 885.1 243.8ZM985.3 234.4 986.1 234 987.4 234.4 986.1 234.9ZM883.9 225.7 882.2 222.8 885.1 221.4 887.6 222.8 885.1 227.3ZM865.7 222.8 868.3 220.5 869.3 222.8 868.3 223.3ZM984.6 222.8 986.1 221.9 988.6 222.8 986.1 223.4ZM865.1 217 868.3 215.4 869.9 217 868.3 219.5ZM959.2 217 960.9 216.1 962.4 217 960.9 217.5ZM927.2 519 935.4 519 927.2 518.5 926.3 519ZM935.6 518.8 936.1 516.1 935.2 516.1ZM918.8 515.2 921.9 513.2 918.8 511.6 918.4 513.2ZM952.5 513.7 952.5 505.6 947.4 507.4 945.9 513.2Z"/>
<path fill="#d3d3d3" fill-rule="evenodd" d="M533.3 519 640 519 643.8 513.2 647.7 508.7 659.1 498.7 664.6 492.6 671.3 486.3 683.1 479.4 699.9 474.6 702.2 472.5 703.8 469.6 706.8 466.7 708.4 465.9 715.4 472.5 715.4 475.4 716.8 476.5 718.3 475.4 718 472.5 719.6 469.6 720.4 466.7 725 463.8 723.1 460.9 725.2 459.4 730.9 460.9 731.7 463.8 733.6 463.9 734.9 466.7 742 469.1 745.1 466.7 745.5 463.8 748.8 460.9 747 458 749.1 455.1 750.3 452.2 749.5 449.3 757.5 446.4 749.6 443.5 750.4 441.4 751.7 440.6 758.9 439.3 761.2 440.6 760.1 443.5 761.2 446.4 765.1 449.3 762.5 455.1 763.5 458 767.3 458.9 768.5 458 769.5 455.1 768.4 452.2 768.2 449.3 770.7 446.4 775.7 444.3 779.6 443.5 775.7 442.9 771.8 440.6 771 437.7 773 434.8 772.4 431.9 770.3 429 771.4 426.1 777 420.3 775.7 420 772.1 417.4 775.3 414.5 773.5 411.6 773 405.7 775.7 403.4 784.1 402 786.3 402.8 783.8 405.7 782.1 408.6 784.1 409.6 792.5 410.4 794.1 408.6 792.5 407.3 785.8 405.7 792.5 405.3 800.9 401.2 809.4 399.4 813.4 397 813.7 394.1 816.5 391.2 817.8 390.7 819.8 391.2 821.6 394.1 824.3 397 826.2 398.1 834.6 400 837.9 397 832.9 394.1 832.3 391.2 834.6 390.2 843 389.7 844.4 388.3 845.5 385.4 851.1 382.5 850.1 379.6 851.4 377.9 853.7 376.7 859.9 375.6 868.3 371.5 876.7 381 881.9 376.7 885.1 370.2 886.3 370.9 889.6 379.6 892.9 382.5 892.9 385.4 902 387.7 903.5 385.4 902 381.4 900 379.6 902 379.2 905.9 376.7 907.8 373.8 910.4 371.7 920 373.8 935.6 373.7 940.4 370.9 944 369.9 960.9 369.3 969.3 366.8 971.1 368 969.3 369.8 966 370.9 967.7 373.8 969.3 374.2 982.9 370.9 984.6 368 986.1 366.8 992.7 368 990.1 370.9 994.5 372.1 994.5 310.3 986.1 310.7 982.4 309.9 980.5 307 980.6 304.1 977.7 303 960.9 308.6 952.5 308.3 944 309.1 935.6 306.4 926.4 307 921.8 309.9 918.8 310.2 910.4 308.6 902 301.1 893.5 304 889 307 885.1 312.8 883.3 309.9 880.1 307 876.7 305 873 307 871 309.9 868.3 311.2 859.7 309.9 861.3 307 859.9 306.5 851.4 307.2 844.1 304.1 843 302.7 834.6 300.6 826.2 302.1 817.8 301.5 809.4 302.9 802.4 301.2 803 298.3 800.9 297.8 792.1 298.3 786.2 301.2 784.1 301.7 780.6 301.2 771.3 295.4 769 292.5 767.7 289.6 767.3 286.5 766.6 286.7 766.6 289.6 765.2 292.5 760.8 295.4 758.9 296.1 754.5 295.4 750.4 292.6 747.6 289.6 743.7 286.7 744.6 283.8 743.4 280.9 743 278 742 277.2 735.2 278 738.9 280.9 737.3 283.8 733.6 286.1 728 286.7 733.6 288.5 734.3 289.6 725.2 289.9 724.7 289.6 723.7 283.8 719.1 278 718.2 272.2 716.8 269 714.1 272.2 713.4 275.1 708.4 280.1 703.8 272.2 703.6 269.3 699.9 267.2 697 266.4 696.8 263.4 698.2 260.5 696.2 257.6 691 254.7 690.6 251.8 683.1 242.1 682.4 240.2 682.4 237.3 678.7 231.5 678 228.6 669.7 217 666.4 214.1 651.1 208.6 641 203.1 632.4 196.7 629.7 193.8 628.1 190.8 622 170.5 620.9 147.3 615.9 109.5 616.1 57.3 520.3 57.3 520.3 109.5 518.5 147.3 518.8 164.7 517.6 190.8 515.9 318.6 518.4 405.7 522.9 469.6 524.2 481.2 527.2 498.7 531.5 513.2 532.2 519ZM707.3 460.9 708.4 460.4 709.3 460.9 708.4 461.9ZM750.1 434.8 758.9 433.3 761.3 434.8 758.9 435.9 750.4 435.7ZM750.1 423.2 749.1 420.3 750.4 419 756 420.3 751.2 423.2 750.4 424.4ZM756.3 417.4 755.1 414.5 757 411.6 758.9 410.3 760.8 411.6 759.8 414.5 760.2 417.4 758.9 418.9ZM773.9 399.9 775.7 398.3 779.3 399.9 775.7 402ZM742 479.2 742.6 478.3 742 477.8 741.2 478.3ZM742 473 742.8 472.5 742 471.2 740.6 472.5ZM767.3 467.4 768.1 466.7 767.3 464.7 766.3 466.7ZM784.1 429.6 784.9 429 784.1 427.9 783.5 429ZM809.4 418.5 810.9 417.4 809.4 415.8 808.1 417.4ZM792.5 415.2 794.4 414.5 792.5 412.2 789.6 414.5ZM826.2 404 830.9 402.8 826.2 401.5 822 402.8ZM817.8 400.6 819.6 399.9 814.8 399.9ZM994.5 308.7 994.5 305.9 992.6 307ZM826.2 297.8 829.6 295.4 826.2 294.8 825.2 295.4Z"/>
<path fill="#c6c6c6" fill-rule="evenodd" d="M536.6 518.2 536.8 519 625.8 519 634.2 501.6 647.2 481.2 648.3 478.3 650 469.6 651.3 466.7 653.5 463.8 657 460.9 672.8 452.2 674.7 450.2 679 440.6 681.2 437.7 684.5 429 687.7 426.1 689.7 423.2 690 420.3 691.5 419.2 700.2 417.4 696.4 414.5 695.9 411.6 699.9 409.8 701.2 408.6 702 405.7 702.1 402.8 704.7 399.9 704.5 397 706.7 394.1 707.3 391.2 708.4 389.7 711.1 391.2 712.6 394.1 712.4 397 716.8 399.5 719.5 397 719 394.1 720.3 391.2 725.2 385.1 733.6 381.7 736.6 385.4 742 388.6 745.1 385.4 746.7 382.5 746.9 379.6 749.4 376.7 749.7 373.8 750.4 373.1 758.9 374.1 765.3 376.7 767.3 379.4 770 373.8 775.7 369.3 792.5 369.6 800.9 367.4 809.4 367.1 817.8 364.3 826.2 366.9 834.6 364.9 843 363.6 851.4 360.8 859.9 360 868.3 356.2 871.8 359.3 876.7 362.4 885.1 355.5 891.4 359.3 893.5 361.6 902 361.1 910.4 356.7 918.8 356.8 927.2 358.2 935.6 358.1 944 355.7 952.5 355.9 960.9 355 969.3 355.5 977.7 358.2 986.1 353.2 994.5 356 994.5 323.6 986.1 327.2 977.7 321.6 969.3 323.6 952.5 324.4 944 325.4 935.6 321.9 918.8 324.6 910.4 324.8 909.4 324.4 907.1 321.5 902 317.7 893.5 318.3 893.1 318.6 892.7 321.5 885.1 324.9 884.2 324.4 882.2 321.5 876.7 319.7 871.7 321.5 868.3 324.8 859.9 321.5 851.4 320.7 843 317.3 834.6 316.4 826.2 316.4 817.8 318.2 809.4 315.1 800.9 316.4 792.5 315 775.7 316.2 767.3 311.1 758.9 314.3 750.4 313 747.9 309.9 743.6 307 742 304.5 738.8 307 733.6 308.3 725.2 308.2 723.4 307 722.3 304.1 717.8 301.2 716.8 299.6 714.5 301.2 708.4 303.7 705.8 301.2 705.4 298.3 706 295.4 703 292.5 692.4 286.7 683.1 280.3 672.8 269.3 664.6 252.3 655.4 228.6 649.9 217 647.3 214.1 641 209.8 630.9 200.9 627 196.7 623.6 190.8 617.7 170.5 617.1 164.7 616.8 147.3 611.7 109.5 611.9 57.3 521.8 57.3 521.9 109.5 519.6 147.3 519.9 164.7 518.3 190.8 517.2 246 516.6 295.4 517 339 519.5 405.7 524.9 466.7 526.9 481.2 530.4 498.7 535.7 513.2 536.2 516.1ZM716.8 297.4 717.8 295.4 716.8 294.5 713.9 295.4Z"/>
<path fill="#bababa" fill-rule="evenodd" d="M543.4 519 615.1 519 622.1 501.6 634.9 481.2 636 478.3 638.1 458 640.4 449.3 644.4 441.7 651.1 432 664.6 415.4 671.3 407.8 679.3 399.9 681.5 397 681.8 394.1 683.1 391.5 686.1 388.3 691.5 384.4 695.8 382.5 699.5 379.6 704.8 376.7 706.3 373.8 708.4 372.4 716.8 376 725.2 367.9 733.6 367 735.8 368 738.7 370.9 742 372.2 743.6 370.9 747.4 365.1 750.4 361.6 758.9 361.4 767.3 363.6 775.7 357.4 792.5 359.1 800.9 356.5 809.4 357.6 817.8 357.5 834.6 354.3 843 354.4 851.4 351.8 859.9 351.5 868.3 349.5 876.7 353.2 881.3 350.6 885.1 349.2 893.5 352.1 900.3 353.5 902 354.3 906.9 350.6 910.4 348.9 918.8 349.6 927.2 349.3 935.6 350.9 944 347.9 952.5 349.5 969.3 348.3 977.7 350.2 983.4 347.7 986.1 347.1 994.5 348.3 994.5 331.8 986.1 333 977.7 329.2 960.9 333.1 952.5 330.1 944 331.3 935.6 329.3 927.2 331.3 910.4 330.7 902 327.8 893.5 328.6 890.4 330.2 885.1 331.5 876.7 328.1 868.3 331.6 859.9 329.9 851.4 329.2 843 326.6 826.2 324.7 817.8 325.7 800.9 325.3 792.5 323.8 775.7 324.5 770.2 321.5 767.3 318.6 758.9 321.1 750.4 321.1 746.6 318.6 742 314.6 736.9 315.7 733.6 317.1 725.2 318.2 722.7 315.7 716.8 311.7 708.4 313.4 699.9 308.4 690.5 304.1 688.2 301.2 690.5 295.4 683.1 291.1 674 283.8 667.9 277.6 661.6 269.3 654.5 253 645.7 228.6 640.7 217 638.7 214.1 634.3 210 627.5 202.4 623.2 196.7 620.3 190.8 614.1 168.7 613.5 164.7 613.4 147.3 608 109.5 608.3 57.3 523.6 57.3 523.6 109.5 520.6 147.3 520.9 164.7 519.1 190.8 517.7 246 517 298.3 517.5 339 520.9 411.6 527.5 469.6 529.4 481.2 533.6 498.7 536.6 506 541 513.2 542.8 519Z"/>
<path fill="#aeaeae" fill-rule="evenodd" d="M550.1 517.4 550.8 519 604.7 519 610.6 507.4 614.3 498.7 620.7 490 626.4 481.2 627.8 478.3 630.1 466.7 631.3 449.3 634.3 440.2 638.3 431.9 667.7 399.9 669.8 397 670.2 391.2 670.9 388.3 672.2 385.4 674.7 382.2 677.7 379.6 683.1 376.1 695.3 370.9 699.9 369.8 703.2 368 708.4 364 716.8 366.3 725.2 360 733.6 360.4 742 362.3 750.4 355.5 758.9 355 767.3 357.2 775.7 351.4 792.5 352.8 800.9 351.3 817.8 350.2 834.6 349.8 843 348.7 851.4 346.8 859.9 346.5 868.3 344.7 876.7 347.9 885.1 343.5 893.5 347.2 902 347.8 910.4 344.5 918.8 344.9 927.2 344.5 935.6 345.6 944 343.6 952.5 344.7 960.9 343.4 969.3 343.7 977.7 345.1 986.1 342.8 994.5 343.7 994.5 336.5 986.1 336.8 977.7 334.6 960.9 336.7 944 335.7 935.6 334.6 927.2 335.4 910.4 335.4 902 332.5 893.5 332.9 885.1 335.9 876.7 332.6 868.3 335.6 859.9 334.1 851.4 333.6 843 332 826.2 330.4 817.8 330.8 792.5 328.8 775.7 330.3 767.3 326.1 758.9 327.2 750.4 327 746.8 324.4 742 322.6 733.6 323.5 725.2 323.3 721.2 321.5 716.8 318.2 708.4 320.2 699.9 315.7 691.5 313.5 683.1 310.2 679 307 677 304.1 676.8 301.2 679.9 295.4 671.7 289.6 665.5 283.8 660.5 278 654.4 269.3 647.7 252.9 639.4 228.6 634.8 217 620.8 197.8 617.5 190.8 611.5 170.5 610.5 164.7 610.5 147.3 609.1 135.7 604.8 109.5 605 57.3 526.3 57.3 526.4 109.5 523.2 129.7 521.6 147.3 521.9 164.7 519.9 190.8 517.6 275.1 517.4 321.5 518 339 520.2 370.9 520.9 397 522.9 420.3 525.2 431.9 528 458 532 481.2 536.1 495.8 538.6 501.6 542.8 507.4 548.4 513.2 549.6 516.1Z"/>
<path fill="#a1a1a1" fill-rule="evenodd" d="M560.2 517.8 561 519 591.9 519 595.8 513.2 601.4 507.4 606.1 498.7 619.5 481.2 622.4 475.4 625.3 463.8 627.2 446.4 631.7 431.9 633.8 429 642.6 420.3 660.7 399.9 662.5 397 662.9 388.3 664.4 382.5 667.9 377.1 671.9 373.8 683.4 368 691.5 365 699.9 363.1 708.4 358.4 716.8 360.2 725.2 354.6 733.6 354.7 742 355.6 750.4 350.7 758.9 349.9 767.3 352.3 775.7 347 784.1 347.6 817.8 346 826.2 346.4 843 345 851.4 343.4 859.9 343.2 865.9 341.9 868.2 339 859.9 337.1 851.4 336.7 826.2 333.8 809.4 333.9 792.5 333 775.7 333.7 767.3 330.3 750.4 331.2 742 326.4 733.6 328.2 725.2 327.6 716.8 324 708.4 324.9 699.9 321.6 689 318.6 681.1 315.7 675.2 312.8 671.4 309.9 669.3 307 668.4 304.1 668.6 301.2 671.8 295.4 664.7 289.6 659.2 283.8 654.4 278 649.1 269.3 630.2 217 617.4 196.5 615.2 190.8 609 170.5 607.8 164.7 607.8 147.3 606.8 138.6 601.7 109.5 601.9 57.3 529.9 57.3 529.9 109.5 526.5 123.5 523.2 141.5 522.6 147.3 522.9 164.7 520.5 190.8 518.3 260.5 517.6 318.6 518.5 339 520.9 370.9 521.8 397 523.2 412.9 526.8 431.9 529.5 455.1 532.5 472.5 534.7 481.2 540 495.8 543.4 501.2 550 507.4 557.6 513.2 559.2 516.1ZM876.7 343.6 880.3 341.9 883.9 339 876.7 336.4 868.3 339 870.9 341.9ZM893.5 343 902 344 907 341.9 910.4 339.1 913.5 339 910.4 338.9 902 336.3 893.5 336.8 886.5 339 890.7 341.9ZM935.6 342.2 937.2 341.9 939.5 339 935.6 338 920.8 339 927.2 339.6 933.4 341.9ZM952.5 339.4 953.9 339 951.1 339ZM977.7 340.4 979.9 339 977.7 338.4 974.5 339Z"/>
<path fill="#959595" fill-rule="evenodd" d="M566.9 510.4 570.3 511.1 577 510.9 583.8 509.9 590.5 507.7 594.2 504.5 598.4 498.7 606.3 490 614.1 480.1 617.4 474.4 620.3 466.7 622.2 458 624.2 443.1 626.9 431.9 629 429 640.5 417.4 657 397 657.3 388.3 659.3 379.6 662.5 373.8 667.9 369.5 683.1 362.6 699.9 357.7 708.4 353.5 716.8 354.9 725.2 350.3 742 351.6 750.4 347.4 758.9 346.5 767.3 347.6 775.7 344.3 792.5 344.3 809.4 343.7 817.8 342.9 826.2 343.4 834.6 342.8 842.3 341.9 847.1 339 843 338.1 834.6 337.4 826.2 337 817.8 337.3 800.9 335.9 775.7 335.9 767.3 333 758.9 334.2 750.4 334 742 329.6 733.6 331.5 725.2 331 716.8 327.4 708.4 328.5 699.9 325.4 683.1 321.5 674.7 318.1 666.4 312.8 663.9 309.9 662.7 307 662.2 304.1 662.6 301.2 665.5 295.4 661.2 291.7 653.7 283.8 647.7 275.1 644.9 269.3 628.8 222.8 625.2 214.1 617.4 201.1 614.1 194 606.7 170.5 605.4 164.7 605.4 150.2 604.6 141.5 598.7 109.5 598.8 57.3 533.6 57.3 533.4 109.5 524 147.3 524.3 164.7 522.5 176.3 521.1 193.8 518.9 254.7 518 298.3 518 318.6 518.9 339 521.7 370.9 523.2 402.9 525.2 417.4 528.4 431.9 531.8 458 533.5 466.7 536.6 478.7 541.8 490 547.6 498.7 550.5 501.6 556.8 506.1 560.2 508 566.6 510.3Z"/>
<path fill="#888888" fill-rule="evenodd" d="M566.9 504.6 570.3 505.1 577 504.9 583.8 503 587.1 501.1 597.2 492.3 610.7 477 614.9 469.6 618 460.9 619.4 455.1 623.1 431.9 625.1 429 636.6 417.4 652.1 397 652.9 385.4 654.5 378.3 657.8 371.9 662.1 368 671.3 362.9 683.1 358.1 699.9 353.2 708.4 350.1 716.8 351.2 725.2 346.9 733.6 346.7 742 348.3 750.4 344 758.9 343.6 767.3 344.7 774.9 341.9 775.7 340.5 784.1 340.5 792.5 342 807.3 339 800.9 338.4 775.7 338.6 767.3 335.7 758.9 336.8 750.4 336.3 742 332.6 733.6 334.1 725.2 333.6 716.8 330.6 708.4 331.6 699.9 328.6 683.1 325.1 672.6 321.5 666.6 318.6 660.1 312.8 658.4 309.9 657.1 304.1 657.6 301.2 660.3 295.4 651.1 286.3 647.2 280.9 642.6 272.2 625.6 222.8 622.1 214.1 613.2 196.7 604.5 170.5 603.2 164.7 603.1 150.2 602.2 141.5 595.6 109.5 595.7 57.3 537.3 57.3 537 109.5 530.7 132.8 525.8 147.3 525.4 156 525.8 164.7 523.2 178.1 521.9 190.8 519 266.4 518.4 318.6 519.4 339 522.5 370.9 523.7 397 524.9 405.7 526.6 417.4 530 431.9 533.3 455.9 536.6 469.8 539.9 478.3 546.7 489.1 553.5 497 559.3 501.6 566.5 504.5Z"/>
<path fill="#7c7c7c" fill-rule="evenodd" d="M570.3 499 573.7 499.1 580.4 497.1 590.5 491.5 604 478.4 608.7 472.5 613.4 463.8 616.3 455.1 619.8 431.9 621.7 429 633.2 417.4 647.8 397 649 385.4 650.7 376.7 653.2 370.9 656.2 368 664.6 362.2 677.2 356.4 685.1 353.5 699.9 350.1 708.4 346.7 716.8 348.1 725.2 344.4 733.6 344.2 742 345.4 749.8 341.9 750.4 340.7 758.9 340 767.3 342.1 770.3 339 767.3 337.9 758.9 338.7 750.4 338.5 742 335.2 733.6 336.3 725.2 336 716.8 333.2 708.4 334.2 699.9 331.4 691.5 330.2 683.1 328.2 671.2 324.4 664.6 321.6 661.2 319.5 654.6 312.8 653.2 309.9 652.3 304.1 652.8 301.2 655.5 295.4 651.1 291.3 647.2 286.7 644.4 282.4 640.6 275.1 622.8 222.8 619.5 214.1 610.7 195.2 602.5 170.5 601.1 164.7 600.8 150.2 599.8 141.5 592.4 109.5 592.5 57.3 541.3 57.3 540.8 109.5 532.9 135.7 528 147.3 527.2 156 527.5 164.7 523.7 182.1 522.6 190.8 519.5 266.4 518.7 318.6 519.9 339 523.6 373.8 525.8 402.8 528.1 417.4 531.5 431.9 534.5 452.2 536.6 460.9 540 470.7 544.4 478.3 553.5 488.7 560.2 494.8 563.6 496.9 568.3 498.7Z"/>
<path fill="#6f6f6f" fill-rule="evenodd" d="M566.9 490.5 570.3 491.3 573.7 491.4 577 490.8 587.1 486.6 590.5 484.6 597.2 479 601.1 475.4 606.1 469.6 610.7 461.6 614.2 452.2 616.7 431.9 618.6 429 630.2 417.4 643.9 397 646 382.5 647.9 373.8 649.2 370.9 651.1 368.2 654.4 365.1 668.8 356.4 683.1 350.8 699.9 347.4 708.4 344.3 716.8 345.2 725.2 342 733.6 341.9 742 343.3 745.4 341.9 746.6 339 742 337.2 733.6 338.1 725.2 337.8 716.8 335.3 708.4 336.4 699.9 333.7 681 330.2 671.1 327.3 661.2 323.1 654.4 318.6 650.1 312.8 649 309.9 648.2 304.1 648.7 301.2 650.9 295.4 647.7 292.2 643.6 286.7 641 282.3 637.6 274.8 622.5 228.6 617 214.1 609.5 196.7 605 182.1 600.6 170.5 599.1 164.7 598.7 150.2 597.4 141.5 589 109.5 588.8 57.3 545.6 57.3 544.8 109.5 536 135.7 530.4 147.3 529.3 156 529.3 164.7 525.6 179.2 523.1 193.8 519.9 266.4 519.1 318.6 520.4 339 521.4 344.8 523.2 363.8 524.8 373.8 526.7 399.9 529.5 417.4 533.1 431.9 536.4 452.2 540 462.7 543.4 469.5 550.1 478.1 560.2 486.8 565.7 490Z"/>
<path fill="#636363" fill-rule="evenodd" d="M563.6 481.6 570.3 483.8 573.7 483.9 583.8 481.6 590.5 478.6 593.9 476.3 600.6 470.3 604 466.3 609 458 611.4 452.2 613.8 431.9 615.7 429 624.9 420.3 627.3 417.4 640.4 397 644.8 373.8 647.5 368 651.1 363.9 662.4 356.4 668.1 353.5 675.7 350.6 685.7 347.7 699.9 345.1 708.4 342.3 716.8 343.3 720.9 341.9 723.1 339 716.8 337.1 708.4 338.2 699.9 335.7 683.1 333.1 667.9 328.8 661.2 326.1 653 321.5 649.9 318.6 646.4 312.8 645.4 309.9 644.7 304.1 645 301.2 646.9 295.4 641 287.9 636.3 278 620.2 228.6 607.9 196.7 597.2 164.7 596.5 150.2 595 141.5 590.5 125.6 585 109.5 584.5 57.3 550.6 57.3 549.4 109.5 539.3 135.7 534.2 144.4 532.2 150.2 531.4 156 531.2 164.7 526.5 180.7 524.5 190.8 523.2 205.3 521.6 234.4 519.6 289.6 519.4 318.6 520.9 339 522 344.8 523.2 357.4 525.7 370.9 527.6 397 528.5 402.8 531.6 420.3 534.8 431.9 538.1 449.3 540 455.4 544.4 463.8 550.1 471.4 556.8 477.5 562.9 481.2Z"/>
<path fill="#575757" fill-rule="evenodd" d="M563.6 475.6 566.9 476.8 573.7 477.7 580.4 476.8 587.1 474.8 590.5 473.4 597.2 468.1 604 460.2 607.3 454.6 609.3 449.3 611.1 431.9 612.9 429 622.2 420.3 624.5 417.4 637 397 642.9 370.9 646.1 365.1 648.8 362.2 657 356.4 667.9 350.8 683.1 346 699.9 342.9 703.1 341.9 705.4 339 699.9 337.3 683.1 335 664.6 330.1 654.5 325.6 651.1 323.6 647.7 320.5 644.4 315.2 642.4 309.9 641.6 304.1 641.7 301.2 643.2 295.4 637.6 287.2 634.3 279.4 619.1 231.5 607.3 199.7 601.7 182.1 597 170.5 595.3 164.7 595 156 593.9 147.3 591.6 138.6 583.8 117.7 579.5 109.5 577.9 57.3 557.5 57.3 555.4 109.5 550.1 118.9 542.8 135.7 538.6 141.5 535.5 147.3 533.5 156 532.9 164.7 527.7 182.1 525.6 190.8 522.6 225.7 520.6 269.3 519.8 295.4 519.9 321.5 521.4 339 526.9 370.9 529 397 532.5 417.4 536.6 431.9 540 447.1 543.4 455.5 549.3 463.8 553.5 468.4 558.5 472.5 563.3 475.4ZM716.8 340.7 717.5 339 715.2 339Z"/>
<path fill="#4a4a4a" fill-rule="evenodd" d="M563.6 469.7 566.9 471.1 573.7 472.1 583.8 470.5 590.5 468 597.2 462.6 601.4 458 604 454.4 606.4 449.3 608.3 431.9 610.1 429 619.5 420.3 621.8 417.4 633.7 397 640.2 370.9 642.8 365.1 644.9 362.2 651.6 356.4 662.8 350.6 679.7 344.8 693.2 341.9 700.2 339 679.9 336 667.6 333.1 661.2 331 652.4 327.3 648 324.4 643.4 318.6 640.6 312.8 639.1 307 638.8 301.2 639.8 295.4 636.2 289.6 632.5 280.9 619.1 237.3 607.3 204.2 601.2 185 595.3 170.5 593.5 164.7 592.6 153.1 590.5 143.4 580.4 121.7 577 117 573.7 114 570.3 112.5 566.9 112 563.6 112.6 560.2 114.6 556.8 118 553.5 122.9 548.4 132.8 540 143.9 537 150.2 535.6 156 534.7 164.7 526.8 190.8 525.7 199.6 522.6 234.4 520.1 295.4 520.1 318.6 521.9 339 528.2 370.9 530.4 397 534 417.4 541.9 443.5 545.4 452.2 553.5 462 558.9 466.7 563.5 469.6Z"/>
<path fill="#3e3e3e" fill-rule="evenodd" d="M566.9 465.3 573.7 466.4 580.4 465.6 587.1 464 590.5 462.6 593.9 460.2 600.6 453.6 603.1 449.3 603.7 446.4 605.5 431.9 607.4 429 616.7 420.3 619 417.4 630.6 397 638.6 368 641 362.8 644.4 358.8 647.7 355.7 654.5 351.9 667.9 346.4 683.2 341.9 688 339 671.3 335.8 661.3 333.1 653.2 330.2 647.7 327.4 644.4 324.4 641 319.1 638.2 312.8 636.7 307 636.2 301.2 636.8 295.4 633.6 289.6 630.9 282.7 627.4 269.3 619.3 243.1 609.9 217 601.8 190.8 591.7 164.7 590.5 153.1 588.1 144.4 585.2 138.6 577 127.4 573.7 124.5 570.3 123 566.9 122.5 563.6 122.8 560.2 124.7 556.8 128.1 551.4 135.7 546.7 139.6 543.4 143.5 540.8 147.3 538.5 153.1 534.9 170.5 528.2 190.8 526.5 201.3 523.2 233.7 520.5 295.4 520.5 318.6 522.4 339 525 347.7 526.8 359.3 529.5 370.9 531.7 397 536.4 420.3 545.4 443.5 550 452.2 556.8 459.1 563.6 463.8Z"/>
<path fill="#313131" fill-rule="evenodd" d="M563.6 458.2 566.9 459.6 573.7 460.7 583.8 459.4 590.5 457.4 597.1 452.2 599.1 449.3 600.6 444.7 602.6 431.9 604.5 429 614 420.3 616.2 417.4 627.5 397 636.9 365.1 641 358.1 644.4 354.7 647.7 352.6 664.6 345.5 675.8 341.9 679.3 339 665.6 336 651.1 331.6 644.4 327.8 641 323.8 635.2 309.9 634 304.1 634 295.4 631.2 289.6 629.2 283.8 625.7 269.3 618.5 246 608.1 217 600.4 190.8 589.9 164.7 588.9 156 587.1 149 583.5 141.5 580.4 138.1 577 136.1 570.3 133.2 563.6 133 560.2 134.2 553.5 137.8 548.8 141.5 543.7 147.3 540.9 153.1 536.6 170.5 529.6 190.8 528 199.6 523.2 241.6 521.8 269.3 520.8 295.4 521 321.5 522.9 339 525.4 344.8 530.7 370.9 533.1 397 536.6 414.1 540 424 551.4 446.4 555.5 452.2 563.3 458Z"/>
<path fill="#252525" fill-rule="evenodd" d="M570.3 455.3 573.7 455.5 587.1 453.4 590.5 452.3 593.9 449.3 597.2 442.6 599.6 431.9 601.5 429 611.1 420.3 613.4 417.4 624.4 397 632.1 373.8 634.3 364.5 638.2 356.4 641 353.5 646 350.6 668.6 341.9 671.8 339 661.2 336.5 647.7 332.5 643.6 330.2 641 327.9 638.8 324.4 633.3 309.9 631.5 301.2 631.4 295.4 627.5 285 623.1 266.4 616 243.1 606.5 217 599 190.8 588.1 164.7 586 153.1 583.8 147.6 580.4 142.7 577 140.1 573.7 138.6 570.3 138 563.6 137.8 556.8 139.6 553.5 141.4 546.7 147.4 543.4 153 542.2 156 538.4 170.5 531 190.8 528.3 205.4 523.2 249.5 521.2 295.4 521.2 318.6 522.8 333.1 523.8 339 527.4 347.7 529.3 359.3 532 370.9 534.7 397 536.6 406.6 539.7 417.4 543.4 424.9 548.2 431.9 553 440.6 556.8 446.4 562.6 452.2 566.9 454.3 569.8 455.1Z"/>
<path fill="#191919" fill-rule="evenodd" d="M570.3 449.5 573.7 449.9 583.8 448.2 587.1 447 590.5 445 593.9 439.6 596.2 431.9 598.3 429 608 420.3 610.3 417.4 621.2 397 629.7 373.8 632.2 362.2 634.3 356.4 636.1 353.5 641 350 662 341.9 664.7 339 644.4 333.4 641 331.3 637.6 327.2 630.6 307 629.1 295.4 625.4 283.8 622.5 269.3 614.4 243.1 604.9 217 597.6 190.8 586.3 164.7 585.3 158.9 583.5 153.1 580.1 147.3 577 144.2 573.7 142.4 566.9 141.2 560.2 141.8 553.5 144.9 550.1 147.7 546.7 151.9 544.6 156 540.1 170.5 533.4 187.9 529.5 205.4 525.5 234.4 523.2 257.5 521.5 295.4 521.5 318.6 523.2 332.8 524.8 339 528 344.8 528.8 347.7 530.6 359.3 533.3 370.9 536.3 397 540 411.2 543.8 420.3 552.8 431.9 556.8 438.3 563.6 445.8 566.9 448.2 569.7 449.3Z"/>
<path fill="#0c0c0c" fill-rule="evenodd" d="M566.9 440.7 570.3 442.3 573.7 442.9 580.4 441.8 587.1 439.2 590.5 436.1 592.3 431.9 594.6 429 604.6 420.3 607 417.4 618 397 627.2 373.8 629.3 362.2 631.5 353.5 634.3 350 637.6 348.2 648.1 344.8 654.9 341.9 657.6 339 647.7 336.8 641 334.6 637.6 331.7 635.3 327.3 633.2 318.6 630.8 312.8 628.2 304.1 626.9 295.4 624.2 286.1 621 269.3 613 243.1 603.3 217 596.3 190.8 591.3 179.2 586.7 170.5 584.4 164.7 582 156 580.4 152.6 577 148.6 573.7 146.3 570.3 145.1 563.6 144.6 556.8 146.5 553.5 148.5 550.1 151.7 546.7 156.7 542 170.5 536.6 183 533.9 190.8 531.2 202.5 526.5 232.5 523.2 265.3 521.9 295.4 521.9 318.6 523.2 329.2 525.8 339 529.4 344.8 530.1 347.7 531.9 359.3 534.8 370.9 538.2 397 540 403.8 543.4 412.6 547.6 420.3 560.3 434.8 566.8 440.6Z"/>
<path fill="#000000" fill-rule="evenodd" d="M570.3 435 573.7 435.8 580.4 434.6 583.8 433.2 590.5 428.8 600.8 420.3 603.3 417.4 614.7 397 624.7 373.8 625.5 370.9 627.9 350.6 630.9 346.3 633.9 344.8 628.6 341.9 630.9 340.9 634.3 340.3 641 340.5 646.4 339 637.6 337.8 636.1 336 634.3 331.3 631.7 318.6 626.6 304.1 622 283.8 619.6 269.3 611.5 243.1 601.8 217 595 190.8 590.5 180.8 584.9 170.5 580.4 158.1 577 152.8 573.7 150.1 570.3 148.7 563.6 148 560.2 148.6 556.8 149.9 552.5 153.1 550 156 546.7 161.8 543.8 170.5 536.3 187.9 531.8 205.4 526.5 239.5 523.2 273.3 522.2 295.4 522.2 318.6 523.2 326.7 527 339 530.8 344.8 531.6 347.7 533.2 359.3 536.3 370.9 540 395.5 541.3 399.9 546.7 412 552.2 420.3 560.2 428 566.9 433.2 569.9 434.8Z"/>
<path fill="#0f0000" fill-rule="evenodd" d="M573.7 429.1 583.8 427.4 590.5 424.8 596.2 420.3 598.9 417.4 604 409.7 614.1 391.5 622.9 370.9 623.9 359.3 623.4 347.7 623.1 344.8 620.4 341.9 623.5 339 629.7 336 632 333.1 630.3 318.6 626.8 309.9 624.2 301.2 620.8 285.8 618.2 269.3 610.2 243.1 600.4 217 593.6 190.8 589.6 182.1 583 170.5 577 157.3 573.7 153.8 570.3 152.1 563.6 151.3 560.2 151.9 556.8 153.3 553.4 156 549.2 161.8 536.6 191.3 531.8 211.2 526.5 246.4 523.2 281.4 522.6 295.4 522.6 318.6 523.2 324.2 525.7 333.1 528.4 339 532.2 344.8 534.6 359.3 538.2 370.9 541.8 391.2 543.1 397 544.3 399.9 550.1 410.4 557.7 420.3 563.6 425.1 566.9 427 573 429Z"/>
<path fill="#1d0000" fill-rule="evenodd" d="M573.7 423.7 583.8 422.3 590.5 420.2 593.9 417.1 600.6 408.2 610.7 391.2 620 370.9 620.8 359.3 618.7 347.7 616.3 341.9 619.2 339 625.4 336 629.3 333.1 629.5 321.5 628.9 318.6 624.4 307 621.9 298.3 619.5 286.7 616.9 269.3 608.8 243.1 599 217 592.2 190.8 587.1 180.5 581 170.5 576.8 161.8 573.7 157.8 570.3 155.6 566.9 154.7 563.6 154.5 558.4 156 554.3 158.9 551.9 161.8 550 164.7 547.9 170.5 540 186.6 534.8 202.5 530 228.6 525.8 260.5 523.2 289.4 522.9 318.6 523.2 321.8 526.5 333.1 533.8 344.8 536.1 359.3 540.1 370.9 543.4 385.6 546.7 397.4 553.5 408.1 560.2 416.2 565 420.3 571.4 423.2Z"/>
<path fill="#2b0000" fill-rule="evenodd" d="M573.7 417.6 583.8 416.2 590.5 413.8 597.2 406 607.3 390.2 617 370.9 617.7 359.3 612.9 341.9 615.9 339 624.2 335 626.9 333.1 627.6 330.2 628.1 321.5 627.6 318.6 624.1 309.9 619.6 295.4 615.7 269.3 607.5 243.1 597.6 217 590.8 190.8 583.8 177.8 573.7 161.8 570.3 159.1 566.9 157.9 563.6 157.7 560.2 158.4 556.8 160.3 553.5 163.6 542.4 185 539.9 190.8 536.1 202.5 533.4 214.1 531 228.6 526.5 260.4 523.3 295.4 523.3 318.6 523.8 321.5 527.5 333.1 535.5 344.8 538 359.3 542.8 370.9 546.7 385 551 397 556.8 405.2 563.6 412.3 566.9 414.8 572.7 417.4Z"/>
<path fill="#390000" fill-rule="evenodd" d="M570.3 409.5 573.7 410.6 577 410.5 583.8 409.3 590.5 406.9 596.5 399.9 600.6 394 607.3 382.8 613.5 370.9 614.5 359.3 609.9 341.9 613.1 339 624.8 333.1 625.9 330.2 626.9 321.5 626.4 318.6 620.8 304.4 618 295.4 614.4 269.3 606.3 243.1 596.2 217 593.6 205.4 589.3 190.8 580.4 175.7 573.7 166.3 570.3 162.7 566.9 161.2 563.6 161 560.2 161.7 555.9 164.7 544.3 185 538.4 199.6 534.5 214.1 530.2 240.2 526.5 267.3 523.9 298.3 524 318.6 525.3 324.4 528.6 333.1 537.3 344.8 538.2 347.7 540 359.5 546 370.9 550.1 382.5 556.3 397 563.6 405.1 568.7 408.6Z"/>
<path fill="#480000" fill-rule="evenodd" d="M573.7 403.6 583.8 402.3 590.5 399.9 600.6 385.8 609.4 370.9 610.5 365.1 611.2 359.3 607.2 344.8 607.1 341.9 610.5 339 622.9 333.1 624.2 330.2 625.7 321.5 625.3 318.6 616.5 295.4 613.2 269.3 605 243.1 594.9 217 592.3 205.4 587.8 190.8 583.8 183.9 577 174.5 570.3 167.1 566.9 164.6 563.6 164.2 560.2 165.3 550.1 178.1 543.3 190.8 537 208.3 533 228.6 526.5 274.3 524.6 295.4 524.6 318.6 526.5 326 529.6 333.1 539.6 344.8 540.6 347.7 542.6 359.3 550 370.9 556.8 386.3 560.2 392.7 563.6 397.7 566.9 400.5 571.4 402.8Z"/>
<path fill="#560000" fill-rule="evenodd" d="M573.7 395.9 577 395.9 580.4 395.1 590.5 391.3 600.6 377.1 604.5 370.9 607.6 359.3 604 344.8 604.3 341.9 608.1 339 621.1 333.1 622.8 330.2 624.5 321.5 624.1 318.6 615 295.4 612 269.3 603.8 243.1 593.6 217 591 205.4 587.1 193.8 586.1 190.8 580.4 181.9 573.7 174.2 570.3 171.6 566.9 169.9 563.6 169.5 560.2 170.9 556.8 173.3 553.5 177.1 546.7 187.7 540 203 536.8 214.1 531.3 246 526.5 281.3 525.2 295.4 525.2 304.1 525.3 318.6 525.8 321.5 530.7 333.1 536.6 339.6 542.5 344.8 543.6 347.7 546.1 359.3 555 370.9 563.6 386.5 566.9 390.8 570.7 394.1Z"/>
<path fill="#640000" fill-rule="evenodd" d="M570.3 382.7 573.7 384.8 577 385 590.5 381.3 600.1 368 603.5 359.3 600.7 344.8 601.4 341.9 605.7 339 619.5 333.1 621.3 330.2 623.4 321.5 623 318.6 613.6 295.4 610.8 269.3 602.6 243.1 592.3 217 590.5 208.7 587.6 199.6 583.8 190 577 180.8 573.7 177.5 570.3 175.1 566.9 173.7 563.6 173.5 560.2 174.6 556.8 177.1 550.1 185.7 546.7 191.6 541.7 202.5 538 214.1 535 228.6 529.8 263.4 525.9 295.4 525.9 318.6 526.5 321.8 531.7 333.1 538 339 546.4 344.8 548 347.7 550.6 359.3 560.8 370.9 566.9 379.4 570.1 382.5Z"/>
<path fill="#700000" fill-rule="evenodd" d="M577 374.1 590.5 371.1 593.3 368 597.2 362.5 598.8 359.3 597.2 344.8 598.4 341.9 603.3 339 617.9 333.1 619.9 330.2 622.3 321.5 622 318.6 612.3 295.4 609.7 269.3 601.4 243.1 590.9 217 588.9 208.3 586 199.6 582.3 190.8 577 184 573.7 180.8 570.3 178.5 566.9 177.3 563.6 177.2 560.2 178.3 556.8 180.8 553.5 184.6 549.3 190.8 543.4 202.2 539.2 214.1 536.1 228.6 533.3 245.6 526.5 295.3 526.6 318.6 527.3 321.5 532.8 333.1 540 338.8 551.9 344.8 553.6 347.7 556.2 359.3 566.9 369.3 573.8 373.8Z"/>
<path fill="#7d0000" fill-rule="evenodd" d="M573.7 365.2 580.4 364.9 590.5 362.7 593.2 359.3 593.2 344.8 595.1 341.9 600.8 339 616.4 333.1 618.6 330.2 621.2 321.5 620.9 318.6 610.9 295.4 608.6 269.3 600.3 243.1 594.7 228.6 589.5 217 585.5 202.5 580.1 190.8 573.7 184.1 570.3 182 566.9 180.9 563.6 180.9 560.2 182.1 556.8 184.6 553.5 188.4 546.7 199 543.4 206 540.5 214.1 535.6 237.3 528.8 283.8 527.4 295.4 527.4 315.7 528.2 321.5 533.9 333.1 543.4 339 552.9 341.9 559.1 344.8 561.1 347.7 563.5 359.3 570.3 363.8 573.5 365.1Z"/>
<path fill="#890000" fill-rule="evenodd" d="M573.7 346.8 577 347.5 580.4 347 590.5 342.9 591.3 341.9 598.1 339 614.9 333.1 617.3 330.2 620.1 321.5 619.9 318.6 609.7 295.4 607.5 269.3 599.1 243.1 593.5 228.6 588.1 217 587.1 212.4 583.8 202.3 580.4 195.4 577.4 190.8 573.7 187.5 570.3 185.5 566.9 184.5 563.6 184.6 560.2 185.8 556.8 188.4 550.1 196.9 546.7 202.5 543.4 210 540 221.5 536.6 237.5 528.2 295.4 528.3 318.6 529.9 323.4 535.1 333.1 543.4 337.6 546.7 338.7 561.3 341.9 570.8 344.8Z"/>
<path fill="#960000" fill-rule="evenodd" d="M553.5 339 563.6 340.8 573.7 341.6 583.8 341.5 590.5 340.8 613.5 333.1 616 330.2 619.1 321.5 618.9 318.6 608.5 295.4 606.4 269.3 598 243.1 592.3 228.6 586.6 217 583.8 206.7 580.6 199.6 577 194.2 573.7 190.8 570.3 189 566.9 188.2 563.6 188.2 560.2 189.5 556.8 192.1 550.1 200.2 546.7 206.1 543.4 213.9 539.5 228.6 536.6 243.6 529 295.4 529.2 318.6 529.9 321.5 533.3 328.3 536.6 333.4 546.7 337.6 553.1 339Z"/>
<path fill="#a20000" fill-rule="evenodd" d="M563.6 339.4 573.7 340.3 587.1 340 590.5 339.5 607.3 334.8 612.1 333.1 614.8 330.2 618.1 321.5 617.9 318.6 607.3 295.4 605.3 269.3 597.2 244.4 593.9 235.6 590.5 227.4 585.1 217 583.7 211.2 580.1 202.5 577 197.8 573.7 194.5 570.3 192.5 566.9 191.8 563.6 191.9 560.2 193.1 556.8 195.5 553.5 198.9 550.1 203.6 544.9 214.1 540.8 228.6 536.6 249.7 529.9 295.4 530.1 318.6 532.2 324.4 536.6 332.1 540 334.4 543.4 335.5 553.5 338.1 560.2 339Z"/>
<path fill="#af0000" fill-rule="evenodd" d="M573.7 339 590.5 338.5 610.7 333.1 613.6 330.2 614.9 327.3 617.1 321.5 617 318.6 606.1 295.4 604.2 269.3 595.6 243.1 592.2 234.4 589.7 228.6 583.6 217 580.8 208.3 577.8 202.5 573.7 197.8 570.3 195.8 566.9 195.1 563.6 195.2 560.2 196.4 556.8 198.7 553.5 202.2 550.1 207 546.7 213.6 543.4 224.1 540 238 536.6 255.9 530.7 295.4 531 318.6 531.7 321.5 536.5 330.2 540 333.7 543.4 334.9 556.8 337.7 572.7 339Z"/>
<path fill="#ba0402" fill-rule="evenodd" d="M553.5 336.1 566.9 337.9 583.8 338.3 590.5 337.8 604 334.8 609.3 333.1 612.3 330.2 616.1 321.5 616 318.6 605 295.4 603.2 269.3 593.9 241.5 588.3 228.6 582 217 580.4 211.6 577 204.9 573.7 201 570.3 198.9 566.9 198.1 563.6 198.2 560.2 199.4 556.8 201.8 553.5 205.4 550.1 210.6 546.7 218.4 543.4 229.1 540 244 536.6 262 531.6 295.4 531.8 318.6 533.3 322.8 536.6 328.7 540.4 333.1 546.7 335.1 553.1 336Z"/>
<path fill="#c60905" fill-rule="evenodd" d="M560.2 336.5 570.3 337.4 583.8 337.5 590.5 337.1 604 334.3 607.8 333.1 611.1 330.2 615.1 321.5 615.1 318.6 603.9 295.4 602.1 269.3 593.3 243.1 587.1 229.1 580.3 217 577 208.8 573.7 204.3 570.3 202 566.9 201.1 563.6 201.2 560.2 202.5 556.5 205.4 553.5 208.9 550.2 214.1 546.7 223.2 543.4 234.9 540 250 532.4 295.4 532.7 318.6 533.6 321.5 536.6 327 539 330.2 542.1 333.1 550.1 335.2 557.7 336Z"/>
<path fill="#d10d07" fill-rule="evenodd" d="M563.6 336.1 573.7 336.8 587.1 336.7 604 333.9 606.4 333.1 609.9 330.2 614.1 321.5 614.1 318.6 602.8 295.4 601 269.3 592.2 243.1 587.1 232 578.5 217 576 211.2 573.7 207.8 570.7 205.4 566.9 204 563.6 204.2 560.7 205.4 556.8 208.3 552.3 214.1 547.6 225.7 543.4 240.7 540 256 533.3 295.4 533.6 318.6 534.5 321.5 540 330 543.8 333.1 546.7 334 563.3 336Z"/>
<path fill="#dd1109" fill-rule="evenodd" d="M573.7 336.1 590.5 335.8 597.2 334.9 604.9 333.1 608.7 330.2 610.4 327.3 613.1 321.5 613.2 318.6 601.8 295.4 600 269.3 590.5 241.9 583.8 228.4 576.6 217 573.7 211.4 570.3 208.3 566.9 207.1 563.6 207.3 560.2 208.8 556.8 211.6 554.8 214.1 550.1 223.7 546.7 233.6 540 261.9 534.2 295.4 534.5 315.7 534.6 318.6 536.6 323.5 541.7 330.2 545.8 333.1 556.8 335.1 572.6 336Z"/>
<path fill="#e8150b" fill-rule="evenodd" d="M550.1 333.7 560.2 335 573.7 335.7 590.5 335.5 597.2 334.6 603.4 333.1 607.4 330.2 612.2 321.5 612.2 318.6 606.9 307 600.7 295.4 598.9 269.3 590.5 245 582.3 228.6 572.8 214.1 570.3 211.6 566.9 210.3 563.6 210.5 560.2 212 557.8 214.1 553.5 220.8 550.1 228.4 543.4 252.4 538.6 275.1 535.1 295.4 535.5 318.6 536.5 321.5 543.2 330.2 547.9 333.1Z"/>
<path fill="#f31a0e" fill-rule="evenodd" d="M550.1 333.1 560.2 334.6 573.7 335.4 590.5 335.1 597.2 334.2 601.8 333.1 606.2 330.2 611.2 321.5 611.3 318.6 610.7 317.3 599.7 295.4 597.9 269.3 590.5 248.2 587.1 240.7 580.4 228.3 577 223.4 570.3 215.2 566.9 213.4 563.6 213.7 560.2 215.6 556.8 219.5 552 228.6 547.3 243.1 543.4 258.3 536 295.4 536.6 319 537.6 321.5 543.4 328.8 546.7 331.5 550.1 333.1Z"/>
<path fill="#ff1e10" fill-rule="evenodd" d="M553.5 333.3 563.6 334.5 577 335.1 590.5 334.8 597.2 333.8 600.2 333.1 604.9 330.2 610.2 321.5 610.3 318.6 609.1 315.7 598.7 295.4 596.8 269.3 590.5 251.4 583.8 237.2 577 226.2 570.3 218.9 566.9 217.2 563.6 217.6 560.2 219.8 556.8 223.9 553.5 230.1 550.1 239.4 545.7 254.7 540 279.2 537 295.4 537.6 318.6 538.7 321.5 543.4 327.3 546.6 330.2 552.5 333.1Z"/>
<path fill="#fd2811" fill-rule="evenodd" d="M556.8 333.4 566.9 334.4 580.4 334.7 590.5 334.4 598.4 333.1 603.6 330.2 609.2 321.5 609.4 318.6 608.1 315.7 597.7 295.4 595.7 269.3 590.5 254.7 583.8 240.1 577 229.1 573.7 225.1 570.3 222.2 566.9 220.7 563.6 221.5 560.2 223.9 556.8 228.2 553.5 235.4 546.7 256.6 540.9 280.9 538 295.4 538.7 318.6 539.9 321.5 543.4 325.7 548.4 330.2 555.1 333.1Z"/>
<path fill="#fc3211" fill-rule="evenodd" d="M560.2 333.4 580.4 334.4 590.5 334.1 596.5 333.1 602.1 330.2 604 328.1 608.2 321.5 608.4 318.6 603.1 307 596.7 295.4 595.9 280.9 594.6 269.3 587.1 250.1 583.8 243.1 577 232.3 573.7 228.2 570.3 225.4 566.9 224.4 563.6 225.3 560.2 228 556.8 233.2 553.5 240.8 546.7 262.4 539 295.4 539.8 318.6 541.2 321.5 546.7 327.3 550.4 330.2 557.9 333.1Z"/>
<path fill="#fa3d12" fill-rule="evenodd" d="M563.6 333.4 580.4 334.1 594.5 333.1 600.7 330.2 607.1 321.5 607.4 318.6 602.1 307 595.8 295.4 594.9 280.9 593.5 269.3 587.1 253.4 582 243.1 577 235.5 573.7 231.5 570.3 228.7 566.9 228.1 563.6 229.4 560.2 232.7 556.8 238.3 553.5 246.3 546.7 268.2 540.1 295.4 541.1 318.6 542.5 321.5 546.7 325.9 552.4 330.2 561.1 333.1Z"/>
<path fill="#f94712" fill-rule="evenodd" d="M566.9 333.3 583.8 333.7 590.5 333.4 593.9 332.6 599.2 330.2 600.6 328.8 606.1 321.5 606.4 318.6 601.1 307 594.8 295.4 592.8 272.2 590.5 264.3 580.4 243.5 573.7 234.9 570.3 232.5 566.9 232.2 563.6 233.9 560.2 237.6 556.8 243.5 550.1 262.1 544.7 280.9 541.3 295.4 542.4 318.6 543.9 321.5 550.1 327.1 554.6 330.2 564.9 333.1Z"/>
<path fill="#f75113" fill-rule="evenodd" d="M570.3 333.2 588.4 333.1 597.2 330.4 600.6 327.3 604 323.1 605 321.5 605.4 318.6 600.2 307 593.9 295.4 592.5 278 590.5 267.4 580.4 246.9 577 241.9 573.7 238.4 570.3 236.3 566.9 236.4 563.6 238.4 560.2 242.5 556.8 248.9 553.5 257.4 547 278 542.5 295.4 543.7 318.6 545.4 321.5 550.1 325.7 556.9 330.2 563.6 332.1 569.9 333.1Z"/>
<path fill="#f55c14" fill-rule="evenodd" d="M560.2 330.5 566.9 332 573.7 332.8 583.8 332.8 590.5 332.1 595.8 330.2 599.1 327.3 603.9 321.5 604.3 318.6 599.2 307 593 295.4 591.8 280.9 589.9 269.3 580.4 250.4 577 245.4 573.7 241.9 570.3 240.2 566.9 240.7 563.6 243 560.2 247.6 556.8 254.3 549.4 275.1 543.7 295.4 545.2 318.6 546.9 321.5 550.1 324.2 559.5 330.2Z"/>
<path fill="#f46614" fill-rule="evenodd" d="M563.6 330.6 577 332.2 590.5 331.4 593.9 330.2 597.6 327.3 602.7 321.5 603.3 318.6 598.2 307 592 295.4 590.5 279 588.4 269.3 583.8 259.7 577 249.1 573.7 245.7 570.3 244.3 566.9 245.2 563.6 247.9 559.2 254.7 556.8 259.7 550.1 278 545.1 295.4 546.7 318.6 548.6 321.5 552.3 324.4 562.4 330.2Z"/>
<path fill="#f26e16" fill-rule="evenodd" d="M566.9 330.5 580.4 331.5 587.1 331.1 591.6 330.2 597.2 326.2 600.6 322.7 601.5 321.5 602.1 318.6 597.2 307 591.1 295.4 589.5 280.9 586.9 269.3 580.4 257.4 577 252.8 573.7 249.7 570.3 248.7 566.9 249.9 564.7 251.8 560.2 258 552.9 275.1 546.4 295.4 547 307 548.3 318.6 550.3 321.5 553.5 323.9 560.2 327.9 565.8 330.2Z"/>
<path fill="#f07618" fill-rule="evenodd" d="M570.3 330.3 583.8 330.7 590.5 329.5 597.5 324.4 600.2 321.5 601 318.6 596.2 307 590.1 295.4 588.3 280.9 585.2 269.3 580.4 260.9 577 256.5 573.7 253.7 570.3 253.1 566.9 254.6 563.8 257.6 560.2 263.2 553.5 278.3 547.9 295.4 548.5 307 550 318.6 552.2 321.5 556.8 324.7 563.6 328.1 570.2 330.2Z"/>
<path fill="#ef7f19" fill-rule="evenodd" d="M566.9 328 577 329.9 587.1 329.2 590.5 328.2 595.9 324.4 598.9 321.5 599.8 318.6 595.1 307 589.1 295.4 587.1 281.4 583.8 270.1 580.4 264.5 577 260.3 573.7 257.8 570.3 257.6 566.9 259.3 563.6 262.9 556.8 275 553.5 283.2 549.4 295.4 550.1 307 551.8 318.6 554.1 321.5 556.8 323.3 565 327.3Z"/>
<path fill="#ed871b" fill-rule="evenodd" d="M570.3 327.7 580.4 328.6 587.1 327.8 590.5 326.8 597.2 321.8 598.5 318.6 594.1 307 588 295.4 586.3 283.8 583.8 274.6 580.4 268.1 577 264.1 573.7 261.9 570.3 262.2 568.1 263.4 563.6 268 560.2 273.1 556.8 279.7 551 295.4 551.8 307 553.6 318.6 556.2 321.5 560.2 323.9 569.1 327.3Z"/>
<path fill="#eb8f1d" fill-rule="evenodd" d="M566.9 325.4 577 327.3 587.1 326.5 590.5 325.5 593.9 323.3 595.9 321.5 597.2 318.6 592.9 307 587 295.4 584.9 283.8 582 275.1 580.4 271.9 577 268 573.7 266.2 570.3 266.7 566.9 269 563.6 272.5 560.2 277.5 557.1 283.8 552.6 295.4 553.6 307 555.6 318.6 558.4 321.5 564.3 324.4Z"/>
<path fill="#ea981e" fill-rule="evenodd" d="M570.3 325.1 577 326 587.1 325.2 590.5 324.1 593.9 321.9 595.7 318.6 590.6 304.1 585.9 295.4 583.8 284.5 581.4 278 580.4 275.9 577 271.7 573.7 270.3 570.3 271 566.9 273.1 563.6 276.7 559.3 283.8 554.3 295.4 555.5 307 557.7 318.6 560.8 321.5 568 324.4Z"/>
<path fill="#e8a020" fill-rule="evenodd" d="M577 324.7 583.8 324.4 590.5 322.7 592.3 321.5 594.2 318.6 590.6 307 584.9 295.4 582.9 286.7 580.4 279.9 577 275.3 573.7 274 570.3 274.9 566.9 277.1 563.6 280.9 560.2 286.4 556.1 295.4 557.5 307 560 318.6 563.6 321.5 570.3 323.8 574.2 324.4Z"/>
<path fill="#e7a720" fill-rule="evenodd" d="M570.3 322.5 577 323.4 583.8 323.1 590.1 321.5 592.4 318.6 590.5 310.7 583.8 295.4 580.4 283.9 577 278.9 573.7 277.7 570.3 278.7 566.9 281.2 563.6 285.2 558.1 295.4 559.6 307 562.7 318.6 567 321.5Z"/>
<path fill="#e5af20" fill-rule="evenodd" d="M573.7 321.8 580.4 322 585.2 321.5 587.1 320.9 590.5 318.6 587.4 307 582.6 295.4 580.4 288 577 282.4 573.7 281.4 570.3 282.6 566.9 285.3 563.6 289.5 560.2 295.4 562.1 307 565.8 318.6 572.2 321.5Z"/>
<path fill="#e4b620" fill-rule="evenodd" d="M570.3 318.8 577 320.3 583.8 319.7 586.8 318.6 586.6 312.8 584.5 304.1 580.4 292 577 285.9 573.7 285.2 570.3 286.6 566.9 289.4 562.7 295.4 565 307 566.9 312.9 569.9 318.6Z"/>
<path fill="#e3be20" fill-rule="evenodd" d="M577 316.8 580.4 316.3 581.1 315.7 582.6 312.8 583 309.9 582.4 304.1 580.4 296.2 577 289.3 573.7 288.9 570.3 290.5 565.5 295.4 566.9 302.6 568.6 307 570.3 310.7 573.7 315.1 574.7 315.7Z"/>
<path fill="#e1c520" fill-rule="evenodd" d="M577 307.5 579 304.1 579.2 301.2 578.5 295.4 577 292.6 573.7 292.7 569.2 295.4 570.3 300 572.7 304.1 573.7 305.6 576.1 307Z"/>
</g>
<rect x="489.5" y="34" width="505.5" height="485" fill="none" stroke="#000" stroke-width="1.5"/>
<path d="M540 519v-8.8M540 34v8.8M641 519v-8.8M641 34v8.8M742 519v-8.8M742 34v8.8M843 519v-8.8M843 34v8.8M944 519v-8.8M944 34v8.8" stroke="#000" stroke-width="1.3" fill="none"/>
<path d="M590.5 519v-4.4M590.5 34v4.4M691.5 519v-4.4M691.5 34v4.4M792.5 519v-4.4M792.5 34v4.4M893.5 519v-4.4M893.5 34v4.4" stroke="#000" stroke-width="1.3" fill="none"/>
<path d="M489.5 131h8.8M995 131h-8.8M489.5 227.8h8.8M995 227.8h-8.8M489.5 324.6h8.8M995 324.6h-8.8M489.5 421.4h8.8M995 421.4h-8.8" stroke="#000" stroke-width="1.3" fill="none"/>
<path d="M489.5 82.6h4.4M995 82.6h-4.4M489.5 179.4h4.4M995 179.4h-4.4M489.5 276.2h4.4M995 276.2h-4.4M489.5 373h4.4M995 373h-4.4M489.5 469.8h4.4M995 469.8h-4.4" stroke="#000" stroke-width="1.3" fill="none"/>
<defs><linearGradient id="cb" x1="0" x2="1" y1="0" y2="0"><stop offset="0.000" stop-color="#f8f8f8"/><stop offset="0.333" stop-color="#000000"/><stop offset="0.450" stop-color="#640000"/><stop offset="0.550" stop-color="#af0000"/><stop offset="0.667" stop-color="#ff1e10"/><stop offset="0.780" stop-color="#f46414"/><stop offset="0.900" stop-color="#e8a020"/><stop offset="1.000" stop-color="#e0cd20"/></linearGradient></defs>
<rect x="753" y="48.3" width="222.5" height="12.2" fill="url(#cb)" stroke="#777" stroke-width="0.8"/>
<line x1="753" y1="60.5" x2="753" y2="63.5" stroke="#777" stroke-width="0.8"/>
<line x1="975.5" y1="60.5" x2="975.5" y2="63.5" stroke="#777" stroke-width="0.8"/>
<text x="753.5" y="89.5" font-size="28" text-anchor="middle" fill="#000" font-family='"Liberation Sans", sans-serif' stroke="#fff" stroke-width="2.2" paint-order="stroke" stroke-linejoin="round">0</text>
<text x="974.2" y="89.5" font-size="28" text-anchor="middle" fill="#000" font-family='"Liberation Sans", sans-serif' stroke="#fff" stroke-width="2.2" paint-order="stroke" stroke-linejoin="round">1</text>
<text x="763.4" y="115.9" font-size="33" text-anchor="start" fill="#000" font-family='"Liberation Sans", sans-serif' stroke="#fff" stroke-width="2.2" paint-order="stroke" stroke-linejoin="round">PL int. (norm.)</text>
<text x="540.8" y="543.3" font-size="28" text-anchor="middle" fill="#000" font-family='"Liberation Sans", sans-serif'>0</text>
<text x="641.8" y="543.3" font-size="28" text-anchor="middle" fill="#000" font-family='"Liberation Sans", sans-serif'>3</text>
<text x="742.8" y="543.3" font-size="28" text-anchor="middle" fill="#000" font-family='"Liberation Sans", sans-serif'>6</text>
<text x="843.8" y="543.3" font-size="28" text-anchor="middle" fill="#000" font-family='"Liberation Sans", sans-serif'>9</text>
<text x="944.8" y="543.3" font-size="28" text-anchor="middle" fill="#000" font-family='"Liberation Sans", sans-serif'>12</text>
<text x="674.9" y="571.8" font-size="33" text-anchor="start" fill="#000" font-family='"Liberation Sans", sans-serif'>Time (ns)</text>
<text x="462.1" y="24.8" font-size="33.5" text-anchor="start" fill="#000" font-family='"Liberation Sans", sans-serif'>b)</text>
<path d="M97.5 944.5 97.5 822 127.5 822 128.3 780 128.5 756 129.5 720 131.5 695.5 133.5 655 136.6 634.6 139.5 628 143.7 625.5 146 627.5 148.8 634.6 154.9 655 161 695.5 164.4 729.7 168.4 759.5 172.3 785.2 176.3 805 180.3 830.8 186.2 848.7 191 858 194.1 864.5 197 869.7 202.2 873.3 206.9 870.1 212.4 874.6 217.2 872.3 221.3 868.5 225.7 872.9 229.4 874.5 233.5 870.2 237.1 876 242.4 875.1 247.4 868.8 251.8 872.2 255.6 875.6 260 869.7 265.5 869.4 271.3 871.9 276.2 871.1 280.9 869.9 284.5 875 288.6 874.4 292.6 875.8 298.4 874.2 303.8 872.9 309.1 869.4 313.8 874.7 317.8 875.4 323.5 871.6 327.9 871.9 332.4 876 336.9 868.7 340.6 873.9 346.6 872.2 351.3 872.6 356.7 870.2 361.7 872.7 366.8 869.9 370.7 871.1 376.5 871.1 381.5 870.8 385.2 869 390.8 874.3 395.2 873.6 400.4 875.2 406.3 871.6 412.3 875.7 417.3 875.1 422 871.3 426.1 875.1 430 869 435.5 874.3 440.2 874.8 443.9 870.4 448.1 871.6 452 869 456.4 875.2 462.3 874.1 467 870.4 472.9 872.4 478.2 868.7 482.3 874.8 487.7 875.1 492.8 871.7 498 871 498 944.5Z" fill="#dcdcdc"/>
<line x1="139.5" y1="594" x2="139.5" y2="944.5" stroke="#6e6e6e" stroke-width="1.5" stroke-dasharray="7.1 6.6"/>
<defs><clipPath id="cc"><rect x="97.5" y="594" width="399.5" height="350.5"/></clipPath></defs>
<g clip-path="url(#cc)">
<polyline points="97.4,889.8 100.2,815.3 103,864.8 105.7,814.6 108.5,809.1 111.3,852.7 114.1,868.1 116.8,815.7 119.6,823 122.4,860.7 125.1,877 127.9,754.9 130.7,678.5 133.5,648.6 136.2,635.3 139,629.1 141.8,624.5 144.5,622.5 147.3,620.5 150.1,620.4 152.9,619.7 155.6,623.6 158.4,627.5 161.2,633 163.9,637.5 166.7,641.4 169.5,647.3 172.3,653.4 175,654.8 177.8,660.2 180.6,660.4 183.3,666.3 186.1,666.8 188.9,670.3 191.7,670.1 194.4,670.2 197.2,672.4 200,677.5 202.7,680.7 205.5,678.2 208.3,682 211.1,683.4 213.8,681.7 216.6,686.2 219.4,682.9 222.1,683.1 224.9,686.1 227.7,689 230.5,688.5 233.2,685.8 236,689.5 238.8,687.9 241.5,691.4 244.3,692 247.1,692.5 249.8,693.3 252.6,693.5 255.4,692.8 258.2,692.6 260.9,696.4 263.7,698.9 266.5,698.9 269.2,700 272,703 274.8,698.6 277.6,700.9 280.3,695.1 283.1,701.3 285.9,703.9 288.6,707.1 291.4,701.2 294.2,699.5 297,701.6 299.7,697.7 302.5,704.4 305.3,702.4 308,704.4 310.8,704.9 313.6,708.1 316.4,702.7 319.1,708.7 321.9,703.9 324.7,704 327.4,704.4 330.2,709.8 333,703.9 335.8,708.2 338.5,705.6 341.3,707.9 344.1,702.1 346.8,709.1 349.6,708.4 352.4,707.4 355.2,712.5 357.9,710.2 360.7,709.9 363.5,709 366.2,711 369,705.6 371.8,705.5 374.6,707.8 377.3,711.6 380.1,710.1 382.9,706.5 385.6,707.7 388.4,711.1 391.2,714.8 394,710.4 396.7,711.8 399.5,714.1 402.3,715.1 405,719.1 407.8,720.1 410.6,720.1 413.4,716.2 416.1,717 418.9,720.3 421.7,719.5 424.4,715.3 427.2,723.4 430,721.8 432.8,724.7 435.5,716 438.3,723.4 441.1,718.7 443.8,721.3 446.6,726 449.4,722.8 452.1,724.6 454.9,724.3 457.7,725.7 460.5,725 463.2,725.6 466,730.2 468.8,726.2 471.5,731.4 474.3,733.5 477.1,731.3 479.9,733.4 482.6,733.3 485.4,735.1 488.2,729.7 490.9,730.1 493.7,735.4 496.5,729.8" fill="none" stroke="#000000" stroke-width="0.9" stroke-linejoin="round"/>
<path d="M95.3 887.7h4.3v4.3h-4.3zM98.1 813.2h4.3v4.3h-4.3zM100.8 862.7h4.3v4.3h-4.3zM103.6 812.5h4.3v4.3h-4.3zM106.4 806.9h4.3v4.3h-4.3zM109.1 850.6h4.3v4.3h-4.3zM111.9 866h4.3v4.3h-4.3zM114.7 813.5h4.3v4.3h-4.3zM117.5 820.8h4.3v4.3h-4.3zM120.2 858.6h4.3v4.3h-4.3zM123 874.8h4.3v4.3h-4.3zM125.8 752.7h4.3v4.3h-4.3zM128.5 676.4h4.3v4.3h-4.3zM131.3 646.4h4.3v4.3h-4.3zM134.1 633.2h4.3v4.3h-4.3zM136.9 627h4.3v4.3h-4.3zM139.6 622.3h4.3v4.3h-4.3zM142.4 620.4h4.3v4.3h-4.3zM145.2 618.4h4.3v4.3h-4.3zM147.9 618.2h4.3v4.3h-4.3zM150.7 617.5h4.3v4.3h-4.3zM153.5 621.5h4.3v4.3h-4.3zM156.2 625.3h4.3v4.3h-4.3zM159 630.8h4.3v4.3h-4.3zM161.8 635.4h4.3v4.3h-4.3zM164.6 639.2h4.3v4.3h-4.3zM167.3 645.2h4.3v4.3h-4.3zM170.1 651.2h4.3v4.3h-4.3zM172.9 652.7h4.3v4.3h-4.3zM175.6 658.1h4.3v4.3h-4.3zM178.4 658.3h4.3v4.3h-4.3zM181.2 664.1h4.3v4.3h-4.3zM184 664.7h4.3v4.3h-4.3zM186.7 668.2h4.3v4.3h-4.3zM189.5 668h4.3v4.3h-4.3zM192.3 668h4.3v4.3h-4.3zM195 670.3h4.3v4.3h-4.3zM197.8 675.4h4.3v4.3h-4.3zM200.6 678.5h4.3v4.3h-4.3zM203.4 676h4.3v4.3h-4.3zM206.1 679.9h4.3v4.3h-4.3zM208.9 681.3h4.3v4.3h-4.3zM211.7 679.6h4.3v4.3h-4.3zM214.4 684.1h4.3v4.3h-4.3zM217.2 680.8h4.3v4.3h-4.3zM220 680.9h4.3v4.3h-4.3zM222.8 683.9h4.3v4.3h-4.3zM225.5 686.9h4.3v4.3h-4.3zM228.3 686.4h4.3v4.3h-4.3zM231.1 683.6h4.3v4.3h-4.3zM233.8 687.3h4.3v4.3h-4.3zM236.6 685.7h4.3v4.3h-4.3zM239.4 689.2h4.3v4.3h-4.3zM242.2 689.8h4.3v4.3h-4.3zM244.9 690.3h4.3v4.3h-4.3zM247.7 691.1h4.3v4.3h-4.3zM250.5 691.3h4.3v4.3h-4.3zM253.2 690.7h4.3v4.3h-4.3zM256 690.5h4.3v4.3h-4.3zM258.8 694.3h4.3v4.3h-4.3zM261.6 696.8h4.3v4.3h-4.3zM264.3 696.7h4.3v4.3h-4.3zM267.1 697.8h4.3v4.3h-4.3zM269.9 700.9h4.3v4.3h-4.3zM272.6 696.5h4.3v4.3h-4.3zM275.4 698.8h4.3v4.3h-4.3zM278.2 693h4.3v4.3h-4.3zM281 699.2h4.3v4.3h-4.3zM283.7 701.7h4.3v4.3h-4.3zM286.5 705h4.3v4.3h-4.3zM289.3 699.1h4.3v4.3h-4.3zM292 697.3h4.3v4.3h-4.3zM294.8 699.5h4.3v4.3h-4.3zM297.6 695.6h4.3v4.3h-4.3zM300.4 702.3h4.3v4.3h-4.3zM303.1 700.3h4.3v4.3h-4.3zM305.9 702.3h4.3v4.3h-4.3zM308.7 702.7h4.3v4.3h-4.3zM311.4 706h4.3v4.3h-4.3zM314.2 700.5h4.3v4.3h-4.3zM317 706.6h4.3v4.3h-4.3zM319.8 701.7h4.3v4.3h-4.3zM322.5 701.8h4.3v4.3h-4.3zM325.3 702.3h4.3v4.3h-4.3zM328.1 707.7h4.3v4.3h-4.3zM330.8 701.8h4.3v4.3h-4.3zM333.6 706h4.3v4.3h-4.3zM336.4 703.5h4.3v4.3h-4.3zM339.2 705.8h4.3v4.3h-4.3zM341.9 700h4.3v4.3h-4.3zM344.7 706.9h4.3v4.3h-4.3zM347.5 706.3h4.3v4.3h-4.3zM350.2 705.3h4.3v4.3h-4.3zM353 710.3h4.3v4.3h-4.3zM355.8 708.1h4.3v4.3h-4.3zM358.5 707.8h4.3v4.3h-4.3zM361.3 706.8h4.3v4.3h-4.3zM364.1 708.8h4.3v4.3h-4.3zM366.9 703.4h4.3v4.3h-4.3zM369.6 703.4h4.3v4.3h-4.3zM372.4 705.6h4.3v4.3h-4.3zM375.2 709.4h4.3v4.3h-4.3zM377.9 707.9h4.3v4.3h-4.3zM380.7 704.3h4.3v4.3h-4.3zM383.5 705.5h4.3v4.3h-4.3zM386.3 708.9h4.3v4.3h-4.3zM389 712.6h4.3v4.3h-4.3zM391.8 708.3h4.3v4.3h-4.3zM394.6 709.7h4.3v4.3h-4.3zM397.3 712h4.3v4.3h-4.3zM400.1 713h4.3v4.3h-4.3zM402.9 716.9h4.3v4.3h-4.3zM405.7 717.9h4.3v4.3h-4.3zM408.4 717.9h4.3v4.3h-4.3zM411.2 714.1h4.3v4.3h-4.3zM414 714.9h4.3v4.3h-4.3zM416.7 718.1h4.3v4.3h-4.3zM419.5 717.4h4.3v4.3h-4.3zM422.3 713.2h4.3v4.3h-4.3zM425.1 721.3h4.3v4.3h-4.3zM427.8 719.7h4.3v4.3h-4.3zM430.6 722.5h4.3v4.3h-4.3zM433.4 713.8h4.3v4.3h-4.3zM436.1 721.3h4.3v4.3h-4.3zM438.9 716.6h4.3v4.3h-4.3zM441.7 719.1h4.3v4.3h-4.3zM444.5 723.8h4.3v4.3h-4.3zM447.2 720.6h4.3v4.3h-4.3zM450 722.5h4.3v4.3h-4.3zM452.8 722.2h4.3v4.3h-4.3zM455.5 723.6h4.3v4.3h-4.3zM458.3 722.8h4.3v4.3h-4.3zM461.1 723.4h4.3v4.3h-4.3zM463.9 728.1h4.3v4.3h-4.3zM466.6 724h4.3v4.3h-4.3zM469.4 729.3h4.3v4.3h-4.3zM472.2 731.4h4.3v4.3h-4.3zM474.9 729.1h4.3v4.3h-4.3zM477.7 731.3h4.3v4.3h-4.3zM480.5 731.1h4.3v4.3h-4.3zM483.3 733h4.3v4.3h-4.3zM486 727.5h4.3v4.3h-4.3zM488.8 728h4.3v4.3h-4.3zM491.6 733.2h4.3v4.3h-4.3zM494.3 727.6h4.3v4.3h-4.3z" fill="#000000"/>
<polyline points="97.4,821.7 100.2,837.7 103,920.8 105.7,857 108.5,833.3 111.3,873 114.1,898 116.8,837.1 119.6,895.8 122.4,823 125.1,848.9 127.9,746.6 130.7,671.8 133.5,647.3 136.2,633 139,627 141.8,623.6 144.5,621.6 147.3,619.6 150.1,619.6 152.9,622.1 155.6,625.8 158.4,631.2 161.2,644.3 163.9,652 166.7,660.7 169.5,663.3 172.3,669.7 175,673.8 177.8,687.2 180.6,683.9 183.3,690.5 186.1,696.7 188.9,699.9 191.7,700.1 194.4,717.8 197.2,707.7 200,712.6 202.7,713.1 205.5,705.9 208.3,724.7 211.1,717.8 213.8,721 216.6,720.4 219.4,717.2 222.1,720.5 224.9,727.8 227.7,724.2 230.5,726.2 233.2,730.9 236,739.3 238.8,728.5 241.5,737.9 244.3,742.1 247.1,744 249.8,744.4 252.6,723.1 255.4,734 258.2,741.2 260.9,743.3 263.7,739.4 266.5,739.5 269.2,735 272,756.1 274.8,746.7 277.6,749.2 280.3,742.5 283.1,755.9 285.9,751.6 288.6,763.7 291.4,729.4 294.2,752.7 297,753 299.7,728.5 302.5,760.2 305.3,774.7 308,737.5 310.8,738.1 313.6,742.5 316.4,747 319.1,740 321.9,768.7 324.7,780.8 327.4,763.7 330.2,745.9 333,755.3 335.8,762.8 338.5,756.4 341.3,750.2 344.1,760.4 346.8,760.8 349.6,754.5 352.4,763.5 355.2,771.8 357.9,774.9 360.7,768 363.5,768 366.2,756.2 369,759.5 371.8,767.2 374.6,767.3 377.3,754.9 380.1,763.9 382.9,758.1 385.6,773.9 388.4,764.2 391.2,771.6 394,780.4 396.7,790.5 399.5,770.1 402.3,762.1 405,761.1 407.8,772 410.6,775.2 413.4,789.4 416.1,775 418.9,785.4 421.7,784.4 424.4,789.6 427.2,782.7 430,782.4 432.8,795.6 435.5,776.4 438.3,780 441.1,767.5 443.8,770.7 446.6,781.8 449.4,768.1 452.1,790.5 454.9,808.8 457.7,786.4 460.5,790.9 463.2,799.8 466,804.2 468.8,770.4 471.5,800.8 474.3,794.1 477.1,793.9 479.9,784.6 482.6,784.1 485.4,775.2 488.2,811.7 490.9,796.6 493.7,803.7 496.5,788.9" fill="none" stroke="#ff8a1a" stroke-width="0.9" stroke-linejoin="round"/>
<path d="M95.3 819.6h4.3v4.3h-4.3zM98.1 835.5h4.3v4.3h-4.3zM100.8 918.7h4.3v4.3h-4.3zM103.6 854.9h4.3v4.3h-4.3zM106.4 831.1h4.3v4.3h-4.3zM109.1 870.8h4.3v4.3h-4.3zM111.9 895.8h4.3v4.3h-4.3zM114.7 835h4.3v4.3h-4.3zM117.5 893.7h4.3v4.3h-4.3zM120.2 820.8h4.3v4.3h-4.3zM123 846.7h4.3v4.3h-4.3zM125.8 744.4h4.3v4.3h-4.3zM128.5 669.7h4.3v4.3h-4.3zM131.3 645.2h4.3v4.3h-4.3zM134.1 630.9h4.3v4.3h-4.3zM136.9 624.9h4.3v4.3h-4.3zM139.6 621.5h4.3v4.3h-4.3zM142.4 619.4h4.3v4.3h-4.3zM145.2 617.5h4.3v4.3h-4.3zM147.9 617.4h4.3v4.3h-4.3zM150.7 619.9h4.3v4.3h-4.3zM153.5 623.7h4.3v4.3h-4.3zM156.2 629h4.3v4.3h-4.3zM159 642.2h4.3v4.3h-4.3zM161.8 649.9h4.3v4.3h-4.3zM164.6 658.5h4.3v4.3h-4.3zM167.3 661.1h4.3v4.3h-4.3zM170.1 667.5h4.3v4.3h-4.3zM172.9 671.7h4.3v4.3h-4.3zM175.6 685.1h4.3v4.3h-4.3zM178.4 681.7h4.3v4.3h-4.3zM181.2 688.3h4.3v4.3h-4.3zM184 694.5h4.3v4.3h-4.3zM186.7 697.7h4.3v4.3h-4.3zM189.5 698h4.3v4.3h-4.3zM192.3 715.6h4.3v4.3h-4.3zM195 705.6h4.3v4.3h-4.3zM197.8 710.4h4.3v4.3h-4.3zM200.6 710.9h4.3v4.3h-4.3zM203.4 703.8h4.3v4.3h-4.3zM206.1 722.5h4.3v4.3h-4.3zM208.9 715.7h4.3v4.3h-4.3zM211.7 718.8h4.3v4.3h-4.3zM214.4 718.3h4.3v4.3h-4.3zM217.2 715h4.3v4.3h-4.3zM220 718.3h4.3v4.3h-4.3zM222.8 725.7h4.3v4.3h-4.3zM225.5 722.1h4.3v4.3h-4.3zM228.3 724h4.3v4.3h-4.3zM231.1 728.8h4.3v4.3h-4.3zM233.8 737.1h4.3v4.3h-4.3zM236.6 726.3h4.3v4.3h-4.3zM239.4 735.8h4.3v4.3h-4.3zM242.2 739.9h4.3v4.3h-4.3zM244.9 741.8h4.3v4.3h-4.3zM247.7 742.2h4.3v4.3h-4.3zM250.5 720.9h4.3v4.3h-4.3zM253.2 731.9h4.3v4.3h-4.3zM256 739h4.3v4.3h-4.3zM258.8 741.2h4.3v4.3h-4.3zM261.6 737.3h4.3v4.3h-4.3zM264.3 737.3h4.3v4.3h-4.3zM267.1 732.8h4.3v4.3h-4.3zM269.9 753.9h4.3v4.3h-4.3zM272.6 744.6h4.3v4.3h-4.3zM275.4 747h4.3v4.3h-4.3zM278.2 740.3h4.3v4.3h-4.3zM281 753.7h4.3v4.3h-4.3zM283.7 749.5h4.3v4.3h-4.3zM286.5 761.6h4.3v4.3h-4.3zM289.3 727.3h4.3v4.3h-4.3zM292 750.5h4.3v4.3h-4.3zM294.8 750.9h4.3v4.3h-4.3zM297.6 726.3h4.3v4.3h-4.3zM300.4 758h4.3v4.3h-4.3zM303.1 772.6h4.3v4.3h-4.3zM305.9 735.3h4.3v4.3h-4.3zM308.7 736h4.3v4.3h-4.3zM311.4 740.4h4.3v4.3h-4.3zM314.2 744.8h4.3v4.3h-4.3zM317 737.9h4.3v4.3h-4.3zM319.8 766.6h4.3v4.3h-4.3zM322.5 778.6h4.3v4.3h-4.3zM325.3 761.5h4.3v4.3h-4.3zM328.1 743.7h4.3v4.3h-4.3zM330.8 753.2h4.3v4.3h-4.3zM333.6 760.6h4.3v4.3h-4.3zM336.4 754.2h4.3v4.3h-4.3zM339.2 748.1h4.3v4.3h-4.3zM341.9 758.3h4.3v4.3h-4.3zM344.7 758.6h4.3v4.3h-4.3zM347.5 752.4h4.3v4.3h-4.3zM350.2 761.4h4.3v4.3h-4.3zM353 769.7h4.3v4.3h-4.3zM355.8 772.8h4.3v4.3h-4.3zM358.5 765.8h4.3v4.3h-4.3zM361.3 765.9h4.3v4.3h-4.3zM364.1 754.1h4.3v4.3h-4.3zM366.9 757.4h4.3v4.3h-4.3zM369.6 765.1h4.3v4.3h-4.3zM372.4 765.1h4.3v4.3h-4.3zM375.2 752.7h4.3v4.3h-4.3zM377.9 761.7h4.3v4.3h-4.3zM380.7 755.9h4.3v4.3h-4.3zM383.5 771.8h4.3v4.3h-4.3zM386.3 762.1h4.3v4.3h-4.3zM389 769.4h4.3v4.3h-4.3zM391.8 778.3h4.3v4.3h-4.3zM394.6 788.3h4.3v4.3h-4.3zM397.3 767.9h4.3v4.3h-4.3zM400.1 759.9h4.3v4.3h-4.3zM402.9 759h4.3v4.3h-4.3zM405.7 769.8h4.3v4.3h-4.3zM408.4 773h4.3v4.3h-4.3zM411.2 787.2h4.3v4.3h-4.3zM414 772.9h4.3v4.3h-4.3zM416.7 783.3h4.3v4.3h-4.3zM419.5 782.3h4.3v4.3h-4.3zM422.3 787.5h4.3v4.3h-4.3zM425.1 780.5h4.3v4.3h-4.3zM427.8 780.3h4.3v4.3h-4.3zM430.6 793.4h4.3v4.3h-4.3zM433.4 774.2h4.3v4.3h-4.3zM436.1 777.9h4.3v4.3h-4.3zM438.9 765.3h4.3v4.3h-4.3zM441.7 768.5h4.3v4.3h-4.3zM444.5 779.6h4.3v4.3h-4.3zM447.2 766h4.3v4.3h-4.3zM450 788.4h4.3v4.3h-4.3zM452.8 806.6h4.3v4.3h-4.3zM455.5 784.3h4.3v4.3h-4.3zM458.3 788.8h4.3v4.3h-4.3zM461.1 797.7h4.3v4.3h-4.3zM463.9 802.1h4.3v4.3h-4.3zM466.6 768.2h4.3v4.3h-4.3zM469.4 798.7h4.3v4.3h-4.3zM472.2 791.9h4.3v4.3h-4.3zM474.9 791.8h4.3v4.3h-4.3zM477.7 782.4h4.3v4.3h-4.3zM480.5 782h4.3v4.3h-4.3zM483.3 773.1h4.3v4.3h-4.3zM486 809.5h4.3v4.3h-4.3zM488.8 794.4h4.3v4.3h-4.3zM491.6 801.6h4.3v4.3h-4.3zM494.3 786.7h4.3v4.3h-4.3z" fill="#ff8a1a"/>
<polyline points="97.4,882.9 100.2,848.9 103,875.6 105.7,826.9 108.5,879.9 111.3,818.6 114.1,843.9 116.8,900.3 119.6,875.6 122.4,920.8 125.1,861.7 127.9,740 130.7,667.4 133.5,644.8 136.2,633.3 139,626 141.8,623.2 144.5,621.5 147.3,620.2 150.1,621.1 152.9,622 155.6,628.6 158.4,642.6 161.2,659.7 163.9,676.1 166.7,690.3 169.5,706 172.3,718.8 175,718.1 177.8,721.7 180.6,742 183.3,745 186.1,752.1 188.9,748.5 191.7,753.8 194.4,754.1 197.2,750.6 200,765.4 202.7,764 205.5,762.6 208.3,772.3 211.1,764 213.8,772.2 216.6,763.5 219.4,745.2 222.1,775.8 224.9,767.5 227.7,750.8 230.5,769 233.2,759.4 236,780.6 238.8,766 241.5,784.7 244.3,760.3 247.1,760.2 249.8,781.3 252.6,778.9 255.4,765.2 258.2,780.9 260.9,776.3 263.7,763.3 266.5,762.7 269.2,788.9 272,755.9 274.8,778 277.6,774 280.3,788.6 283.1,769.7 285.9,759 288.6,757.2 291.4,774.8 294.2,785.5 297,787 299.7,774.3 302.5,769.3 305.3,774 308,779.3 310.8,780.3 313.6,781.8 316.4,785.8 319.1,771.9 321.9,767.7 324.7,784.2 327.4,793.3 330.2,794.2 333,790 335.8,793.3 338.5,790.6 341.3,779.1 344.1,782.4 346.8,804.2 349.6,768 352.4,786.9 355.2,790.1 357.9,788.9 360.7,798.2 363.5,797.1 366.2,801.8 369,792.5 371.8,805.9 374.6,794.3 377.3,806 380.1,793.7 382.9,813.8 385.6,797.3 388.4,811 391.2,794.1 394,803.8 396.7,791.1 399.5,791.4 402.3,796.7 405,809 407.8,803.5 410.6,809.4 413.4,792 416.1,820 418.9,827 421.7,806.8 424.4,786.7 427.2,792.8 430,788.2 432.8,812.8 435.5,801.5 438.3,822.8 441.1,787.3 443.8,819.4 446.6,835.5 449.4,799.3 452.1,812.7 454.9,811.5 457.7,816 460.5,845.7 463.2,821.5 466,822.3 468.8,800 471.5,828.7 474.3,815.8 477.1,820.1 479.9,805.6 482.6,813.8 485.4,817.6 488.2,800.7 490.9,815 493.7,809.9 496.5,813.5" fill="none" stroke="#9a16cc" stroke-width="0.9" stroke-linejoin="round"/>
<path d="M95.3 880.8h4.3v4.3h-4.3zM98.1 846.7h4.3v4.3h-4.3zM100.8 873.4h4.3v4.3h-4.3zM103.6 824.8h4.3v4.3h-4.3zM106.4 877.7h4.3v4.3h-4.3zM109.1 816.4h4.3v4.3h-4.3zM111.9 841.8h4.3v4.3h-4.3zM114.7 898.1h4.3v4.3h-4.3zM117.5 873.4h4.3v4.3h-4.3zM120.2 918.7h4.3v4.3h-4.3zM123 859.6h4.3v4.3h-4.3zM125.8 737.9h4.3v4.3h-4.3zM128.5 665.2h4.3v4.3h-4.3zM131.3 642.6h4.3v4.3h-4.3zM134.1 631.2h4.3v4.3h-4.3zM136.9 623.9h4.3v4.3h-4.3zM139.6 621.1h4.3v4.3h-4.3zM142.4 619.3h4.3v4.3h-4.3zM145.2 618.1h4.3v4.3h-4.3zM147.9 618.9h4.3v4.3h-4.3zM150.7 619.8h4.3v4.3h-4.3zM153.5 626.5h4.3v4.3h-4.3zM156.2 640.4h4.3v4.3h-4.3zM159 657.5h4.3v4.3h-4.3zM161.8 674h4.3v4.3h-4.3zM164.6 688.2h4.3v4.3h-4.3zM167.3 703.8h4.3v4.3h-4.3zM170.1 716.7h4.3v4.3h-4.3zM172.9 716h4.3v4.3h-4.3zM175.6 719.5h4.3v4.3h-4.3zM178.4 739.9h4.3v4.3h-4.3zM181.2 742.8h4.3v4.3h-4.3zM184 749.9h4.3v4.3h-4.3zM186.7 746.3h4.3v4.3h-4.3zM189.5 751.7h4.3v4.3h-4.3zM192.3 751.9h4.3v4.3h-4.3zM195 748.5h4.3v4.3h-4.3zM197.8 763.2h4.3v4.3h-4.3zM200.6 761.8h4.3v4.3h-4.3zM203.4 760.5h4.3v4.3h-4.3zM206.1 770.1h4.3v4.3h-4.3zM208.9 761.9h4.3v4.3h-4.3zM211.7 770h4.3v4.3h-4.3zM214.4 761.3h4.3v4.3h-4.3zM217.2 743.1h4.3v4.3h-4.3zM220 773.7h4.3v4.3h-4.3zM222.8 765.4h4.3v4.3h-4.3zM225.5 748.6h4.3v4.3h-4.3zM228.3 766.8h4.3v4.3h-4.3zM231.1 757.2h4.3v4.3h-4.3zM233.8 778.5h4.3v4.3h-4.3zM236.6 763.8h4.3v4.3h-4.3zM239.4 782.5h4.3v4.3h-4.3zM242.2 758.1h4.3v4.3h-4.3zM244.9 758h4.3v4.3h-4.3zM247.7 779.2h4.3v4.3h-4.3zM250.5 776.7h4.3v4.3h-4.3zM253.2 763.1h4.3v4.3h-4.3zM256 778.7h4.3v4.3h-4.3zM258.8 774.1h4.3v4.3h-4.3zM261.6 761.1h4.3v4.3h-4.3zM264.3 760.5h4.3v4.3h-4.3zM267.1 786.7h4.3v4.3h-4.3zM269.9 753.8h4.3v4.3h-4.3zM272.6 775.8h4.3v4.3h-4.3zM275.4 771.8h4.3v4.3h-4.3zM278.2 786.5h4.3v4.3h-4.3zM281 767.5h4.3v4.3h-4.3zM283.7 756.8h4.3v4.3h-4.3zM286.5 755.1h4.3v4.3h-4.3zM289.3 772.7h4.3v4.3h-4.3zM292 783.4h4.3v4.3h-4.3zM294.8 784.8h4.3v4.3h-4.3zM297.6 772.2h4.3v4.3h-4.3zM300.4 767.2h4.3v4.3h-4.3zM303.1 771.8h4.3v4.3h-4.3zM305.9 777.2h4.3v4.3h-4.3zM308.7 778.2h4.3v4.3h-4.3zM311.4 779.6h4.3v4.3h-4.3zM314.2 783.6h4.3v4.3h-4.3zM317 769.7h4.3v4.3h-4.3zM319.8 765.6h4.3v4.3h-4.3zM322.5 782h4.3v4.3h-4.3zM325.3 791.1h4.3v4.3h-4.3zM328.1 792.1h4.3v4.3h-4.3zM330.8 787.9h4.3v4.3h-4.3zM333.6 791.2h4.3v4.3h-4.3zM336.4 788.5h4.3v4.3h-4.3zM339.2 776.9h4.3v4.3h-4.3zM341.9 780.2h4.3v4.3h-4.3zM344.7 802h4.3v4.3h-4.3zM347.5 765.8h4.3v4.3h-4.3zM350.2 784.8h4.3v4.3h-4.3zM353 787.9h4.3v4.3h-4.3zM355.8 786.8h4.3v4.3h-4.3zM358.5 796.1h4.3v4.3h-4.3zM361.3 794.9h4.3v4.3h-4.3zM364.1 799.6h4.3v4.3h-4.3zM366.9 790.3h4.3v4.3h-4.3zM369.6 803.7h4.3v4.3h-4.3zM372.4 792.2h4.3v4.3h-4.3zM375.2 803.9h4.3v4.3h-4.3zM377.9 791.6h4.3v4.3h-4.3zM380.7 811.7h4.3v4.3h-4.3zM383.5 795.2h4.3v4.3h-4.3zM386.3 808.8h4.3v4.3h-4.3zM389 791.9h4.3v4.3h-4.3zM391.8 801.6h4.3v4.3h-4.3zM394.6 789h4.3v4.3h-4.3zM397.3 789.3h4.3v4.3h-4.3zM400.1 794.6h4.3v4.3h-4.3zM402.9 806.9h4.3v4.3h-4.3zM405.7 801.3h4.3v4.3h-4.3zM408.4 807.3h4.3v4.3h-4.3zM411.2 789.9h4.3v4.3h-4.3zM414 817.8h4.3v4.3h-4.3zM416.7 824.9h4.3v4.3h-4.3zM419.5 804.6h4.3v4.3h-4.3zM422.3 784.6h4.3v4.3h-4.3zM425.1 790.6h4.3v4.3h-4.3zM427.8 786h4.3v4.3h-4.3zM430.6 810.7h4.3v4.3h-4.3zM433.4 799.4h4.3v4.3h-4.3zM436.1 820.7h4.3v4.3h-4.3zM438.9 785.1h4.3v4.3h-4.3zM441.7 817.3h4.3v4.3h-4.3zM444.5 833.3h4.3v4.3h-4.3zM447.2 797.1h4.3v4.3h-4.3zM450 810.6h4.3v4.3h-4.3zM452.8 809.3h4.3v4.3h-4.3zM455.5 813.9h4.3v4.3h-4.3zM458.3 843.6h4.3v4.3h-4.3zM461.1 819.3h4.3v4.3h-4.3zM463.9 820.1h4.3v4.3h-4.3zM466.6 797.9h4.3v4.3h-4.3zM469.4 826.6h4.3v4.3h-4.3zM472.2 813.6h4.3v4.3h-4.3zM474.9 818h4.3v4.3h-4.3zM477.7 803.4h4.3v4.3h-4.3zM480.5 811.6h4.3v4.3h-4.3zM483.3 815.5h4.3v4.3h-4.3zM486 798.5h4.3v4.3h-4.3zM488.8 812.8h4.3v4.3h-4.3zM491.6 807.7h4.3v4.3h-4.3zM494.3 811.3h4.3v4.3h-4.3z" fill="#9a16cc"/>
</g>
<rect x="97.5" y="594" width="399.5" height="350.5" fill="none" stroke="#000" stroke-width="1.5"/>
<path d="M139.5 944.5v-6.2M139.5 594v6.2M192.1 944.5v-6.2M192.1 594v6.2M244.7 944.5v-6.2M244.7 594v6.2M297.3 944.5v-6.2M297.3 594v6.2M349.8 944.5v-6.2M349.8 594v6.2M402.4 944.5v-6.2M402.4 594v6.2M455 944.5v-6.2M455 594v6.2" stroke="#000" stroke-width="1.3" fill="none"/>
<path d="M113.2 944.5v-3M113.2 594v3M165.8 944.5v-3M165.8 594v3M218.4 944.5v-3M218.4 594v3M271 944.5v-3M271 594v3M323.5 944.5v-3M323.5 594v3M376.1 944.5v-3M376.1 594v3M428.7 944.5v-3M428.7 594v3M481.3 944.5v-3M481.3 594v3" stroke="#000" stroke-width="1.3" fill="none"/>
<path d="M97.5 620h7M497 620h-7M97.5 723h7M497 723h-7M97.5 826h7M497 826h-7M97.5 929h7M497 929h-7" stroke="#000" stroke-width="1.3" fill="none"/>
<path d="M97.5 939h3.5M497 939h-3.5M97.5 933.7h3.5M497 933.7h-3.5M97.5 898h3.5M497 898h-3.5M97.5 879.9h3.5M497 879.9h-3.5M97.5 867h3.5M497 867h-3.5M97.5 857h3.5M497 857h-3.5M97.5 848.9h3.5M497 848.9h-3.5M97.5 842h3.5M497 842h-3.5M97.5 836h3.5M497 836h-3.5M97.5 830.7h3.5M497 830.7h-3.5M97.5 795h3.5M497 795h-3.5M97.5 776.9h3.5M497 776.9h-3.5M97.5 764h3.5M497 764h-3.5M97.5 754h3.5M497 754h-3.5M97.5 745.9h3.5M497 745.9h-3.5M97.5 739h3.5M497 739h-3.5M97.5 733h3.5M497 733h-3.5M97.5 727.7h3.5M497 727.7h-3.5M97.5 692h3.5M497 692h-3.5M97.5 673.9h3.5M497 673.9h-3.5M97.5 661h3.5M497 661h-3.5M97.5 651h3.5M497 651h-3.5M97.5 642.9h3.5M497 642.9h-3.5M97.5 636h3.5M497 636h-3.5M97.5 630h3.5M497 630h-3.5M97.5 624.7h3.5M497 624.7h-3.5" stroke="#000" stroke-width="1.3" fill="none"/>
<text x="94.6" y="630.8" font-size="27" text-anchor="end" fill="#000" font-family='"Liberation Sans", sans-serif'>1</text>
<text x="94.6" y="732.6" font-size="27" text-anchor="end" fill="#000" font-family='"Liberation Sans", sans-serif'>0.1</text>
<text x="94.6" y="837" font-size="27" text-anchor="end" fill="#000" font-family='"Liberation Sans", sans-serif'>0.01</text>
<text x="94.6" y="938.5" font-size="27" text-anchor="end" fill="#000" font-family='"Liberation Sans", sans-serif'>0.001</text>
<text x="139.1" y="970" font-size="28" text-anchor="middle" fill="#000" font-family='"Liberation Sans", sans-serif'>0</text>
<text x="239.2" y="970" font-size="28" text-anchor="middle" fill="#000" font-family='"Liberation Sans", sans-serif'>10</text>
<text x="349" y="970" font-size="28" text-anchor="middle" fill="#000" font-family='"Liberation Sans", sans-serif'>20</text>
<text x="453.8" y="970" font-size="28" text-anchor="middle" fill="#000" font-family='"Liberation Sans", sans-serif'>30</text>
<text x="230.2" y="1002" font-size="33" text-anchor="start" fill="#000" font-family='"Liberation Sans", sans-serif'>Time (ns)</text>
<text x="24.1" y="930.2" font-size="32.8" text-anchor="start" transform="rotate(-90 24.1 930.2)" fill="#000" font-family='"Liberation Sans", sans-serif'>PL intensity (arb.units)</text>
<text x="422.4" y="708.7" font-size="27.2" text-anchor="start" fill="#000" font-family='"Liberation Sans", sans-serif'>ZPL</text>
<text x="188.8" y="843.9" font-size="27.5" text-anchor="start" fill="#000" font-family='"Liberation Sans", sans-serif'>IR</text>
<text x="13.5" y="591.8" font-size="34" text-anchor="start" fill="#000" font-family='"Liberation Sans", sans-serif'>c)</text>
<line x1="750.8" y1="594" x2="750.8" y2="943" stroke="#7a7a7a" stroke-width="1.5" stroke-dasharray="6.7 6.7"/>
<rect x="594" y="749" width="399" height="6.3" fill="#bdbdbd"/>
<polyline points="632,662 632.8,662.4 633.9,663 635.1,663.7 636.5,664.4 638,665.2 639.6,666.1 641.2,666.9 642.8,667.8 644.3,668.6 646,669.5 647.7,670.5 649.5,671.5 651.3,672.5 653.1,673.4 654.8,674.4 656.5,675.2 658.1,676.1 659.7,677 661.3,677.8 662.8,678.6 664.4,679.4 665.9,680.1 667.4,680.8 669,681.5 670.5,682.1 672,682.6 673.5,683.1 674.9,683.6 676.4,684 678,684.4 679.7,684.8 681.5,685.2 683.5,685.7 685.6,686.2 687.8,686.6 690.1,687 692.4,687.5 694.7,687.9 696.9,688.2 699,688.5 701,688.8 703,689 704.9,689.2 706.8,689.3 708.7,689.4 710.5,689.5 712.3,689.5 714,689.5 715.7,689.4 717.4,689.3 719,689.2 720.6,689 722.1,688.8 723.6,688.5 725.1,688.1 726.5,687.8 727.9,687.3 729.2,686.8 730.4,686.2 731.7,685.6 732.9,685 734.1,684.3 735.3,683.5 736.5,682.8 737.8,681.9 739.1,681 740.4,679.9 741.8,678.9 743.1,677.9 744.3,676.9 745.5,676 746.5,675.2 747.4,674.6 748.2,674 748.8,673.4 749.4,672.9 750,672.5 750.6,672.2 751.3,672 752,672 752.8,672.3 753.6,672.9 754.4,673.8 755.2,674.7 756.1,675.5 757,676.2 758,676.6 759,676.5 760.1,676 761.3,675.1 762.6,674 764,672.7 765.3,671.3 766.6,669.7 767.8,668.1 769,666.5 770,664.8 771,663 771.9,661.1 772.8,659.2 773.7,657.2 774.6,655.2 775.5,653.3 776.5,651.5 777.6,649.7 778.7,647.8 779.8,645.9 781,644.1 782.1,642.4 783.2,640.9 784.3,639.8 785.2,639 786.1,638.6 787,638.5 787.7,638.7 788.5,639.1 789.2,639.7 789.9,640.6 790.7,641.6 791.5,642.8 792.4,644.2 793.3,645.9 794.2,647.9 795.2,650 796.1,652.3 797.1,654.6 798.1,656.8 799,659 799.9,661.1 800.9,663.2 801.8,665.3 802.8,667.4 803.7,669.5 804.6,671.7 805.6,674.1 806.5,676.5 807.4,679.1 808.4,681.9 809.3,684.9 810.2,687.9 811.2,690.9 812.1,693.8 813.1,696.5 814,699 814.9,701.2 815.9,703.3 816.9,705.3 817.9,707.1 818.8,708.9 819.7,710.6 820.6,712.3 821.5,714 822.3,715.8 823.2,717.7 824,719.6 824.8,721.4 825.6,723.2 826.3,724.7 826.8,726 827.2,727" fill="none" stroke="#ff1a1a" stroke-width="2.2" stroke-linejoin="round" stroke-dasharray="7 5"/>
<polyline points="631.5,808 633.1,807.9 635.2,807.8 637.7,807.7 640.4,807.6 643.4,807.4 646.4,807.3 649.3,807.1 652,807 654.6,806.9 657.1,806.8 659.6,806.6 662.1,806.5 664.7,806.4 667.3,806.2 670.1,806.1 673,806 676.1,805.9 679.3,805.7 682.6,805.6 686,805.5 689.5,805.3 693,805.2 696.5,805.1 700,805 703.6,804.9 707.4,804.7 711.3,804.6 715.2,804.4 719,804.3 722.5,804.3 725.7,804.3 728.5,804.5 730.8,804.8 732.6,805.2 734.2,805.6 735.5,806.1 736.6,806.7 737.7,807.4 738.8,808.2 740,809 741.3,809.8 742.4,810.6 743.6,811.3 744.7,812.2 745.8,813.3 746.9,814.6 747.9,816.3 749,818.5 750,821.3 751.1,824.6 752.1,828.3 753.1,832.2 754,836.3 755,840.4 756,844.3 757,848 758,851.6 759,855.2 759.9,858.9 760.9,862.5 761.9,865.9 762.9,869 763.9,871.7 765,874 766.2,875.7 767.4,877 768.6,877.8 769.9,878.4 771.2,878.8 772.5,879.1 773.7,879.5 775,880 776.2,880.6 777.5,881 778.7,881.5 779.9,881.9 781.2,882.3 782.4,882.8 783.7,883.3 785,884 786.3,884.8 787.7,885.7 789.1,886.7 790.5,887.8 791.9,888.8 793.3,889.9 794.6,891 796,892 797.3,893 798.7,894.1 800,895.1 801.3,896.2 802.6,897.2 803.9,898.2 805.2,899.1 806.5,900 807.8,900.8 809.1,901.6 810.4,902.3 811.8,903 813.1,903.7 814.4,904.3 815.7,904.9 817,905.5 818.2,906 819.4,906.5 820.5,906.9 821.6,907.3 822.8,907.7 824.1,908.1 825.7,908.5 827.5,909 829.7,909.6 832.2,910.3 834.9,911.1 837.8,911.9 840.7,912.6 843.6,913.3 846.4,913.7 849,914 851.4,914 853.7,913.8 856,913.4 858.2,913 860.4,912.4 862.6,911.9 864.8,911.4 867,911 869.2,910.6 871.3,910.2 873.4,909.8 875.4,909.4 877.6,909 879.9,908.8 882.3,908.6 885,908.5 887.9,908.6 891.1,908.8 894.5,909.1 897.9,909.4 901.5,909.8 905,910.3 908.6,910.7 912,911 915.6,911.3 919.4,911.7 923.3,912 927.2,912.4 930.9,912.7 934.1,913.1 936.9,913.3 939,913.5" fill="none" stroke="#000" stroke-width="1.7" stroke-linejoin="round" stroke-dasharray="6 5"/>
<line x1="632" y1="643.5" x2="632" y2="680.2" stroke="#ff4a4a" stroke-width="1.1"/>
<line x1="628.8" y1="643.5" x2="635.2" y2="643.5" stroke="#ff4a4a" stroke-width="1.1"/>
<line x1="628.8" y1="680.2" x2="635.2" y2="680.2" stroke="#ff4a4a" stroke-width="1.1"/>
<line x1="673.5" y1="666.5" x2="673.5" y2="702.8" stroke="#ff4a4a" stroke-width="1.1"/>
<line x1="670.3" y1="666.5" x2="676.7" y2="666.5" stroke="#ff4a4a" stroke-width="1.1"/>
<line x1="670.3" y1="702.8" x2="676.7" y2="702.8" stroke="#ff4a4a" stroke-width="1.1"/>
<line x1="728.5" y1="680.2" x2="728.5" y2="707.2" stroke="#ff4a4a" stroke-width="1.1"/>
<line x1="725.3" y1="680.2" x2="731.7" y2="680.2" stroke="#ff4a4a" stroke-width="1.1"/>
<line x1="725.3" y1="707.2" x2="731.7" y2="707.2" stroke="#ff4a4a" stroke-width="1.1"/>
<line x1="785.8" y1="603.2" x2="785.8" y2="630.2" stroke="#ff4a4a" stroke-width="1.1"/>
<line x1="782.5" y1="603.2" x2="789" y2="603.2" stroke="#ff4a4a" stroke-width="1.1"/>
<line x1="782.5" y1="630.2" x2="789" y2="630.2" stroke="#ff4a4a" stroke-width="1.1"/>
<line x1="806.5" y1="675.2" x2="806.5" y2="694" stroke="#ff4a4a" stroke-width="1.1"/>
<line x1="803.3" y1="675.2" x2="809.7" y2="675.2" stroke="#ff4a4a" stroke-width="1.1"/>
<line x1="803.3" y1="694" x2="809.7" y2="694" stroke="#ff4a4a" stroke-width="1.1"/>
<circle cx="632" cy="662" r="4.4" fill="#fff" stroke="#ff1010" stroke-width="3.0"/>
<circle cx="673.5" cy="684.8" r="4.4" fill="#fff" stroke="#ff1010" stroke-width="3.0"/>
<circle cx="728.5" cy="694" r="4.4" fill="#fff" stroke="#ff1010" stroke-width="3.0"/>
<circle cx="749.5" cy="672" r="4.4" fill="#fff" stroke="#ff1010" stroke-width="3.0"/>
<circle cx="765.2" cy="684.8" r="4.4" fill="#fff" stroke="#ff1010" stroke-width="3.0"/>
<circle cx="785.8" cy="616.5" r="4.4" fill="#fff" stroke="#ff1010" stroke-width="3.0"/>
<circle cx="806.5" cy="684.8" r="4.4" fill="#fff" stroke="#ff1010" stroke-width="3.0"/>
<circle cx="827.2" cy="727" r="4.4" fill="#fff" stroke="#ff1010" stroke-width="3.0"/>
<line x1="631.5" y1="791" x2="631.5" y2="825" stroke="#000" stroke-width="1.0"/>
<line x1="628.3" y1="791" x2="634.7" y2="791" stroke="#000" stroke-width="1.0"/>
<line x1="628.3" y1="825" x2="634.7" y2="825" stroke="#000" stroke-width="1.0"/>
<line x1="673" y1="786" x2="673" y2="826" stroke="#000" stroke-width="1.0"/>
<line x1="669.8" y1="786" x2="676.2" y2="786" stroke="#000" stroke-width="1.0"/>
<line x1="669.8" y1="826" x2="676.2" y2="826" stroke="#000" stroke-width="1.0"/>
<rect x="628.1" y="804.6" width="6.8" height="6.8" fill="#fff" stroke="#000" stroke-width="2.6"/>
<rect x="669.6" y="802.6" width="6.8" height="6.8" fill="#fff" stroke="#000" stroke-width="2.6"/>
<rect x="724.9" y="801.1" width="6.8" height="6.8" fill="#fff" stroke="#000" stroke-width="2.6"/>
<rect x="745.6" y="815" width="6.8" height="6.8" fill="#fff" stroke="#000" stroke-width="2.6"/>
<rect x="761.4" y="871" width="6.8" height="6.8" fill="#fff" stroke="#000" stroke-width="2.6"/>
<line x1="763" y1="873.6" x2="766.6" y2="873.6" stroke="#000" stroke-width="0.7"/>
<line x1="763" y1="875.6" x2="766.6" y2="875.6" stroke="#000" stroke-width="0.7"/>
<rect x="781.9" y="881" width="6.8" height="6.8" fill="#fff" stroke="#000" stroke-width="2.6"/>
<line x1="783.5" y1="883.6" x2="787.1" y2="883.6" stroke="#000" stroke-width="0.7"/>
<line x1="783.5" y1="885.6" x2="787.1" y2="885.6" stroke="#000" stroke-width="0.7"/>
<rect x="803.1" y="896.6" width="6.8" height="6.8" fill="#fff" stroke="#000" stroke-width="2.6"/>
<line x1="804.7" y1="899.2" x2="808.3" y2="899.2" stroke="#000" stroke-width="0.7"/>
<line x1="804.7" y1="901.2" x2="808.3" y2="901.2" stroke="#000" stroke-width="0.7"/>
<rect x="824" y="905.8" width="6.8" height="6.8" fill="#fff" stroke="#000" stroke-width="2.6"/>
<line x1="825.6" y1="908.4" x2="829.2" y2="908.4" stroke="#000" stroke-width="0.7"/>
<line x1="825.6" y1="910.4" x2="829.2" y2="910.4" stroke="#000" stroke-width="0.7"/>
<rect x="845.2" y="910.8" width="6.8" height="6.8" fill="#fff" stroke="#000" stroke-width="2.6"/>
<line x1="846.8" y1="913.4" x2="850.4" y2="913.4" stroke="#000" stroke-width="0.7"/>
<line x1="846.8" y1="915.4" x2="850.4" y2="915.4" stroke="#000" stroke-width="0.7"/>
<rect x="881.6" y="905.1" width="6.8" height="6.8" fill="#fff" stroke="#000" stroke-width="2.6"/>
<line x1="883.2" y1="907.7" x2="886.8" y2="907.7" stroke="#000" stroke-width="0.7"/>
<line x1="883.2" y1="909.7" x2="886.8" y2="909.7" stroke="#000" stroke-width="0.7"/>
<rect x="935.6" y="910.1" width="6.8" height="6.8" fill="#fff" stroke="#000" stroke-width="2.6"/>
<line x1="937.2" y1="912.7" x2="940.8" y2="912.7" stroke="#000" stroke-width="0.7"/>
<line x1="937.2" y1="914.7" x2="940.8" y2="914.7" stroke="#000" stroke-width="0.7"/>
<rect x="594" y="594" width="399" height="349" fill="none" stroke="#000" stroke-width="1.5"/>
<path d="M587 751.5L601 745.3L601 751.4L587 757.6Z" fill="#fff"/>
<path d="M587 751.5L601 745.5M587 757.5L601 751.5" stroke="#000" stroke-width="1.5" fill="none"/>
<path d="M986 751.5L1000 745.3L1000 751.4L986 757.6Z" fill="#fff"/>
<path d="M986 751.5L1000 745.5M986 757.5L1000 751.5" stroke="#000" stroke-width="1.5" fill="none"/>
<path d="M627 943v-6.5M627 594v6.5M693.6 943v-6.5M693.6 594v6.5M760.2 943v-6.5M760.2 594v6.5M826.8 943v-6.5M826.8 594v6.5M893.4 943v-6.5M893.4 594v6.5M960 943v-6.5M960 594v6.5" stroke="#000" stroke-width="1.3" fill="none"/>
<path d="M660.3 943v-3.5M660.3 594v3.5M726.9 943v-3.5M726.9 594v3.5M793.5 943v-3.5M793.5 594v3.5M860.1 943v-3.5M860.1 594v3.5M926.7 943v-3.5M926.7 594v3.5" stroke="#000" stroke-width="1.3" fill="none"/>
<path d="M594 602.8h6M993 602.8h-6M594 648.5h6M993 648.5h-6M594 694.3h6M993 694.3h-6M594 740h6M993 740h-6" stroke="#000" stroke-width="1.3" fill="none"/>
<path d="M594 625.7h3M993 625.7h-3M594 671.4h3M993 671.4h-3M594 717.1h3M993 717.1h-3" stroke="#000" stroke-width="1.3" fill="none"/>
<path d="M594 774h6M993 774h-6M594 824h6M993 824h-6M594 874h6M993 874h-6M594 924h6M993 924h-6" stroke="#000" stroke-width="1.3" fill="none"/>
<path d="M594 799h3M993 799h-3M594 849h3M993 849h-3M594 899h3M993 899h-3" stroke="#000" stroke-width="1.3" fill="none"/>
<text x="582.6" y="613.4" font-size="27.5" text-anchor="end" fill="#000" font-family='"Liberation Sans", sans-serif'>40</text>
<text x="582.6" y="659.2" font-size="27.5" text-anchor="end" fill="#000" font-family='"Liberation Sans", sans-serif'>30</text>
<text x="582.6" y="704.5" font-size="27.5" text-anchor="end" fill="#000" font-family='"Liberation Sans", sans-serif'>20</text>
<text x="582.6" y="748.8" font-size="27.5" text-anchor="end" fill="#000" font-family='"Liberation Sans", sans-serif'>10</text>
<text x="586.7" y="784.8" font-size="27.5" text-anchor="end" fill="#000" font-family='"Liberation Sans", sans-serif'>2.0</text>
<text x="586.7" y="833.8" font-size="27.5" text-anchor="end" fill="#000" font-family='"Liberation Sans", sans-serif'>1.5</text>
<text x="586.7" y="883.1" font-size="27.5" text-anchor="end" fill="#000" font-family='"Liberation Sans", sans-serif'>1.0</text>
<text x="586.7" y="932.6" font-size="27.5" text-anchor="end" fill="#000" font-family='"Liberation Sans", sans-serif'>0.5</text>
<text x="626" y="970.2" font-size="28" text-anchor="middle" fill="#000" font-family='"Liberation Sans", sans-serif'>1.37</text>
<text x="692.6" y="970.2" font-size="28" text-anchor="middle" fill="#000" font-family='"Liberation Sans", sans-serif'>1.38</text>
<text x="759.2" y="970.2" font-size="28" text-anchor="middle" fill="#000" font-family='"Liberation Sans", sans-serif'>1.39</text>
<text x="825.8" y="970.2" font-size="28" text-anchor="middle" fill="#000" font-family='"Liberation Sans", sans-serif'>1.40</text>
<text x="892.4" y="970.2" font-size="28" text-anchor="middle" fill="#000" font-family='"Liberation Sans", sans-serif'>1.41</text>
<text x="959" y="970.2" font-size="28" text-anchor="middle" fill="#000" font-family='"Liberation Sans", sans-serif'>1.42</text>
<text x="706.9" y="1001.3" font-size="33" text-anchor="start" fill="#000" font-family='"Liberation Sans", sans-serif'>Energy (eV)</text>
<text x="539.5" y="882.4" font-size="32.7" text-anchor="start" transform="rotate(-90 539.5 882.4)" fill="#000" font-family='"Liberation Sans", sans-serif'>Decay time (ns)</text>
<text x="779" y="812.4" font-size="27.2" text-anchor="start" transform="rotate(-90 779 812.4)" fill="#000" font-family='"Liberation Sans", sans-serif'>ZPL</text>
<text x="499.9" y="591.5" font-size="33.5" text-anchor="start" fill="#000" font-family='"Liberation Sans", sans-serif'>d)</text>
<line x1="868" y1="777" x2="915.5" y2="777" stroke="#000" stroke-width="1.7" stroke-dasharray="6 8"/>
<rect x="891.1" y="773.6" width="6.8" height="6.8" fill="#fff" stroke="#000" stroke-width="2.6"/>
<line x1="868" y1="805.5" x2="915.5" y2="805.5" stroke="#ff1010" stroke-width="1.7" stroke-dasharray="6 8"/>
<circle cx="894.5" cy="805.5" r="4.4" fill="#fff" stroke="#ff1010" stroke-width="3.0"/>
<text x="925.9" y="778.9" font-size="28" text-anchor="start" font-style="italic" fill="#000" font-family='"Liberation Serif", serif'>&#964;</text>
<text x="937.2" y="784.1" font-size="24" text-anchor="start" font-style="italic" fill="#000" font-family='"Liberation Serif", serif'>fast</text>
<text x="924.5" y="813.9" font-size="28" text-anchor="start" font-style="italic" fill="#000" font-family='"Liberation Serif", serif'>&#964;</text>
<text x="937.4" y="818.4" font-size="23.6" text-anchor="start" font-style="italic" fill="#000" font-family='"Liberation Serif", serif'>slow</text>
</svg></body></html>
